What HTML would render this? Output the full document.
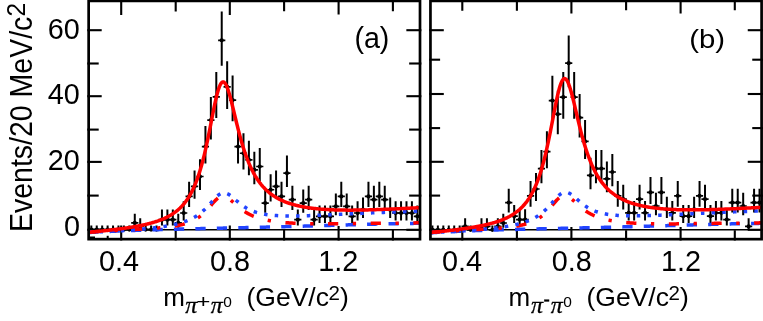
<!DOCTYPE html>
<html><head><meta charset="utf-8"><title>fig</title><style>html,body{margin:0;padding:0;background:#fff}svg text{white-space:pre}</style></head><body><svg width="763" height="321" viewBox="0 0 763 321" style="display:block;will-change:transform">
<rect x="0" y="0" width="763" height="321" fill="#fff"/>
<defs><clipPath id="ca"><rect x="88.6" y="1" width="331.4" height="238.2"/></clipPath><clipPath id="cb"><rect x="430.4" y="1" width="331.2" height="238.2"/></clipPath></defs>
<path d="M121.20 0V15.10 M121.20 240.5V225.40" stroke="#000" stroke-width="2.1" fill="none"/>
<path d="M175.70 0V11.60 M175.70 240.5V228.90" stroke="#000" stroke-width="2.1" fill="none"/>
<path d="M229.80 0V15.10 M229.80 240.5V225.40" stroke="#000" stroke-width="2.1" fill="none"/>
<path d="M284.10 0V11.30 M284.10 240.5V229.20" stroke="#000" stroke-width="2.1" fill="none"/>
<path d="M338.60 0V14.50 M338.60 240.5V226.00" stroke="#000" stroke-width="2.1" fill="none"/>
<path d="M392.90 0V11.30 M392.90 240.5V229.20" stroke="#000" stroke-width="2.1" fill="none"/>
<path d="M87.30 30.20H101.70" stroke="#000" stroke-width="2.1" fill="none"/>
<path d="M87.30 63.50H98.70" stroke="#000" stroke-width="2.1" fill="none"/>
<path d="M87.30 96.20H101.70" stroke="#000" stroke-width="2.1" fill="none"/>
<path d="M87.30 129.60H98.70" stroke="#000" stroke-width="2.1" fill="none"/>
<path d="M87.30 161.90H101.70" stroke="#000" stroke-width="2.1" fill="none"/>
<path d="M87.30 195.60H98.70" stroke="#000" stroke-width="2.1" fill="none"/>
<path d="M87.30 229.80H101.70" stroke="#000" stroke-width="2.1" fill="none"/>
<path d="M421.35 30.20H406.35" stroke="#000" stroke-width="2.1" fill="none"/>
<path d="M421.35 63.50H409.15" stroke="#000" stroke-width="2.1" fill="none"/>
<path d="M421.35 96.20H406.35" stroke="#000" stroke-width="2.1" fill="none"/>
<path d="M421.35 129.60H409.15" stroke="#000" stroke-width="2.1" fill="none"/>
<path d="M421.35 161.90H406.35" stroke="#000" stroke-width="2.1" fill="none"/>
<path d="M421.35 195.60H409.15" stroke="#000" stroke-width="2.1" fill="none"/>
<path d="M421.35 229.80H406.35" stroke="#000" stroke-width="2.1" fill="none"/>
<g clip-path="url(#ca)">
<line x1="88.65" x2="420.00" y1="229.75" y2="229.75" stroke="#000" stroke-width="1.7"/>
<path d="M91.31 225.38V230.00" stroke="#000" stroke-width="2.0" fill="none"/>
<path d="M87.71 229.60H94.91" stroke="#000" stroke-width="1.7" fill="none"/>
<circle cx="91.31" cy="229.60" r="2.1" fill="#000"/>
<path d="M96.75 225.38V230.00" stroke="#000" stroke-width="2.0" fill="none"/>
<path d="M93.15 229.60H100.35" stroke="#000" stroke-width="1.7" fill="none"/>
<circle cx="96.75" cy="229.60" r="2.1" fill="#000"/>
<path d="M102.18 225.38V230.00" stroke="#000" stroke-width="2.0" fill="none"/>
<path d="M98.58 229.60H105.78" stroke="#000" stroke-width="1.7" fill="none"/>
<circle cx="102.18" cy="229.60" r="2.1" fill="#000"/>
<path d="M107.61 225.38V230.00" stroke="#000" stroke-width="2.0" fill="none"/>
<path d="M104.02 229.60H111.21" stroke="#000" stroke-width="1.7" fill="none"/>
<circle cx="107.61" cy="229.60" r="2.1" fill="#000"/>
<path d="M113.05 225.38V230.00" stroke="#000" stroke-width="2.0" fill="none"/>
<path d="M109.45 229.60H116.65" stroke="#000" stroke-width="1.7" fill="none"/>
<circle cx="113.05" cy="229.60" r="2.1" fill="#000"/>
<path d="M118.48 225.38V230.00" stroke="#000" stroke-width="2.0" fill="none"/>
<path d="M114.88 229.60H122.08" stroke="#000" stroke-width="1.7" fill="none"/>
<circle cx="118.48" cy="229.60" r="2.1" fill="#000"/>
<path d="M123.92 225.38V230.00" stroke="#000" stroke-width="2.0" fill="none"/>
<path d="M120.32 229.60H127.52" stroke="#000" stroke-width="1.7" fill="none"/>
<circle cx="123.92" cy="229.60" r="2.1" fill="#000"/>
<path d="M129.35 225.38V230.00" stroke="#000" stroke-width="2.0" fill="none"/>
<path d="M125.75 229.60H132.95" stroke="#000" stroke-width="1.7" fill="none"/>
<circle cx="129.35" cy="229.60" r="2.1" fill="#000"/>
<path d="M134.78 213.80V227.65" stroke="#000" stroke-width="2.0" fill="none"/>
<path d="M131.19 222.96H138.38" stroke="#000" stroke-width="1.7" fill="none"/>
<circle cx="134.78" cy="222.96" r="2.1" fill="#000"/>
<path d="M140.22 218.25V229.43" stroke="#000" stroke-width="2.0" fill="none"/>
<path d="M136.62 226.28H143.82" stroke="#000" stroke-width="1.7" fill="none"/>
<circle cx="140.22" cy="226.28" r="2.1" fill="#000"/>
<path d="M145.65 225.38V230.00" stroke="#000" stroke-width="2.0" fill="none"/>
<path d="M142.05 229.60H149.25" stroke="#000" stroke-width="1.7" fill="none"/>
<circle cx="145.65" cy="229.60" r="2.1" fill="#000"/>
<path d="M151.09 225.38V230.00" stroke="#000" stroke-width="2.0" fill="none"/>
<path d="M147.49 229.60H154.69" stroke="#000" stroke-width="1.7" fill="none"/>
<circle cx="151.09" cy="229.60" r="2.1" fill="#000"/>
<path d="M156.52 225.38V230.00" stroke="#000" stroke-width="2.0" fill="none"/>
<path d="M152.92 229.60H160.12" stroke="#000" stroke-width="1.7" fill="none"/>
<circle cx="156.52" cy="229.60" r="2.1" fill="#000"/>
<path d="M161.96 209.55V225.46" stroke="#000" stroke-width="2.0" fill="none"/>
<path d="M158.36 219.64H165.56" stroke="#000" stroke-width="1.7" fill="none"/>
<circle cx="161.96" cy="219.64" r="2.1" fill="#000"/>
<path d="M167.39 209.55V225.46" stroke="#000" stroke-width="2.0" fill="none"/>
<path d="M163.79 219.64H170.99" stroke="#000" stroke-width="1.7" fill="none"/>
<circle cx="167.39" cy="219.64" r="2.1" fill="#000"/>
<path d="M172.82 209.55V225.46" stroke="#000" stroke-width="2.0" fill="none"/>
<path d="M169.22 219.64H176.42" stroke="#000" stroke-width="1.7" fill="none"/>
<circle cx="172.82" cy="219.64" r="2.1" fill="#000"/>
<path d="M178.26 213.80V227.65" stroke="#000" stroke-width="2.0" fill="none"/>
<path d="M174.66 222.96H181.86" stroke="#000" stroke-width="1.7" fill="none"/>
<circle cx="178.26" cy="222.96" r="2.1" fill="#000"/>
<path d="M183.69 201.37V220.57" stroke="#000" stroke-width="2.0" fill="none"/>
<path d="M180.09 213.00H187.29" stroke="#000" stroke-width="1.7" fill="none"/>
<circle cx="183.69" cy="213.00" r="2.1" fill="#000"/>
<path d="M189.12 181.83V207.12" stroke="#000" stroke-width="2.0" fill="none"/>
<path d="M185.52 196.40H192.72" stroke="#000" stroke-width="1.7" fill="none"/>
<circle cx="189.12" cy="196.40" r="2.1" fill="#000"/>
<path d="M194.56 170.44V198.65" stroke="#000" stroke-width="2.0" fill="none"/>
<path d="M190.96 186.44H198.16" stroke="#000" stroke-width="1.7" fill="none"/>
<circle cx="194.56" cy="186.44" r="2.1" fill="#000"/>
<path d="M199.99 159.20V190.02" stroke="#000" stroke-width="2.0" fill="none"/>
<path d="M196.39 176.48H203.59" stroke="#000" stroke-width="1.7" fill="none"/>
<circle cx="199.99" cy="176.48" r="2.1" fill="#000"/>
<path d="M205.43 126.06V163.49" stroke="#000" stroke-width="2.0" fill="none"/>
<path d="M201.83 146.60H209.03" stroke="#000" stroke-width="1.7" fill="none"/>
<circle cx="205.43" cy="146.60" r="2.1" fill="#000"/>
<path d="M210.86 97.06V139.41" stroke="#000" stroke-width="2.0" fill="none"/>
<path d="M207.26 120.04H214.46" stroke="#000" stroke-width="1.7" fill="none"/>
<circle cx="210.86" cy="120.04" r="2.1" fill="#000"/>
<path d="M216.29 71.91V118.11" stroke="#000" stroke-width="2.0" fill="none"/>
<path d="M212.69 96.80H219.89" stroke="#000" stroke-width="1.7" fill="none"/>
<circle cx="216.29" cy="96.80" r="2.1" fill="#000"/>
<path d="M221.73 11.43V65.75" stroke="#000" stroke-width="2.0" fill="none"/>
<path d="M218.13 40.36H225.33" stroke="#000" stroke-width="1.7" fill="none"/>
<circle cx="221.73" cy="40.36" r="2.1" fill="#000"/>
<path d="M227.16 61.18V108.93" stroke="#000" stroke-width="2.0" fill="none"/>
<path d="M223.56 86.84H230.76" stroke="#000" stroke-width="1.7" fill="none"/>
<circle cx="227.16" cy="86.84" r="2.1" fill="#000"/>
<path d="M232.60 75.49V121.16" stroke="#000" stroke-width="2.0" fill="none"/>
<path d="M229.00 100.12H236.20" stroke="#000" stroke-width="1.7" fill="none"/>
<circle cx="232.60" cy="100.12" r="2.1" fill="#000"/>
<path d="M238.03 126.06V163.49" stroke="#000" stroke-width="2.0" fill="none"/>
<path d="M234.43 146.60H241.63" stroke="#000" stroke-width="1.7" fill="none"/>
<circle cx="238.03" cy="146.60" r="2.1" fill="#000"/>
<path d="M243.47 133.37V169.45" stroke="#000" stroke-width="2.0" fill="none"/>
<path d="M239.87 153.24H247.07" stroke="#000" stroke-width="1.7" fill="none"/>
<circle cx="243.47" cy="153.24" r="2.1" fill="#000"/>
<path d="M248.90 140.70V175.37" stroke="#000" stroke-width="2.0" fill="none"/>
<path d="M245.30 159.88H252.50" stroke="#000" stroke-width="1.7" fill="none"/>
<circle cx="248.90" cy="159.88" r="2.1" fill="#000"/>
<path d="M254.33 151.77V184.19" stroke="#000" stroke-width="2.0" fill="none"/>
<path d="M250.73 169.84H257.93" stroke="#000" stroke-width="1.7" fill="none"/>
<circle cx="254.33" cy="169.84" r="2.1" fill="#000"/>
<path d="M259.77 148.08V181.26" stroke="#000" stroke-width="2.0" fill="none"/>
<path d="M256.17 166.52H263.37" stroke="#000" stroke-width="1.7" fill="none"/>
<circle cx="259.77" cy="166.52" r="2.1" fill="#000"/>
<path d="M265.20 189.54V212.63" stroke="#000" stroke-width="2.0" fill="none"/>
<path d="M261.60 203.04H268.80" stroke="#000" stroke-width="1.7" fill="none"/>
<circle cx="265.20" cy="203.04" r="2.1" fill="#000"/>
<path d="M270.63 174.22V201.50" stroke="#000" stroke-width="2.0" fill="none"/>
<path d="M267.03 189.76H274.24" stroke="#000" stroke-width="1.7" fill="none"/>
<circle cx="270.63" cy="189.76" r="2.1" fill="#000"/>
<path d="M276.07 170.44V198.65" stroke="#000" stroke-width="2.0" fill="none"/>
<path d="M272.47 186.44H279.67" stroke="#000" stroke-width="1.7" fill="none"/>
<circle cx="276.07" cy="186.44" r="2.1" fill="#000"/>
<path d="M281.50 181.83V207.12" stroke="#000" stroke-width="2.0" fill="none"/>
<path d="M277.90 196.40H285.10" stroke="#000" stroke-width="1.7" fill="none"/>
<circle cx="281.50" cy="196.40" r="2.1" fill="#000"/>
<path d="M286.94 155.48V187.11" stroke="#000" stroke-width="2.0" fill="none"/>
<path d="M283.34 173.16H290.54" stroke="#000" stroke-width="1.7" fill="none"/>
<circle cx="286.94" cy="173.16" r="2.1" fill="#000"/>
<path d="M292.37 185.67V209.89" stroke="#000" stroke-width="2.0" fill="none"/>
<path d="M288.77 199.72H295.97" stroke="#000" stroke-width="1.7" fill="none"/>
<circle cx="292.37" cy="199.72" r="2.1" fill="#000"/>
<path d="M297.81 209.55V225.46" stroke="#000" stroke-width="2.0" fill="none"/>
<path d="M294.20 219.64H301.41" stroke="#000" stroke-width="1.7" fill="none"/>
<circle cx="297.81" cy="219.64" r="2.1" fill="#000"/>
<path d="M303.24 189.54V212.63" stroke="#000" stroke-width="2.0" fill="none"/>
<path d="M299.64 203.04H306.84" stroke="#000" stroke-width="1.7" fill="none"/>
<circle cx="303.24" cy="203.04" r="2.1" fill="#000"/>
<path d="M308.67 185.67V209.89" stroke="#000" stroke-width="2.0" fill="none"/>
<path d="M305.07 199.72H312.27" stroke="#000" stroke-width="1.7" fill="none"/>
<circle cx="308.67" cy="199.72" r="2.1" fill="#000"/>
<path d="M314.11 209.55V225.46" stroke="#000" stroke-width="2.0" fill="none"/>
<path d="M310.51 219.64H317.71" stroke="#000" stroke-width="1.7" fill="none"/>
<circle cx="314.11" cy="219.64" r="2.1" fill="#000"/>
<path d="M319.54 205.42V223.08" stroke="#000" stroke-width="2.0" fill="none"/>
<path d="M315.94 216.32H323.14" stroke="#000" stroke-width="1.7" fill="none"/>
<circle cx="319.54" cy="216.32" r="2.1" fill="#000"/>
<path d="M324.97 205.42V223.08" stroke="#000" stroke-width="2.0" fill="none"/>
<path d="M321.37 216.32H328.57" stroke="#000" stroke-width="1.7" fill="none"/>
<circle cx="324.97" cy="216.32" r="2.1" fill="#000"/>
<path d="M330.41 205.42V223.08" stroke="#000" stroke-width="2.0" fill="none"/>
<path d="M326.81 216.32H334.01" stroke="#000" stroke-width="1.7" fill="none"/>
<circle cx="330.41" cy="216.32" r="2.1" fill="#000"/>
<path d="M335.84 193.44V215.33" stroke="#000" stroke-width="2.0" fill="none"/>
<path d="M332.24 206.36H339.44" stroke="#000" stroke-width="1.7" fill="none"/>
<circle cx="335.84" cy="206.36" r="2.1" fill="#000"/>
<path d="M341.28 181.83V207.12" stroke="#000" stroke-width="2.0" fill="none"/>
<path d="M337.68 196.40H344.88" stroke="#000" stroke-width="1.7" fill="none"/>
<circle cx="341.28" cy="196.40" r="2.1" fill="#000"/>
<path d="M346.71 193.44V215.33" stroke="#000" stroke-width="2.0" fill="none"/>
<path d="M343.11 206.36H350.31" stroke="#000" stroke-width="1.7" fill="none"/>
<circle cx="346.71" cy="206.36" r="2.1" fill="#000"/>
<path d="M352.14 205.42V223.08" stroke="#000" stroke-width="2.0" fill="none"/>
<path d="M348.54 216.32H355.75" stroke="#000" stroke-width="1.7" fill="none"/>
<circle cx="352.14" cy="216.32" r="2.1" fill="#000"/>
<path d="M357.58 201.37V220.57" stroke="#000" stroke-width="2.0" fill="none"/>
<path d="M353.98 213.00H361.18" stroke="#000" stroke-width="1.7" fill="none"/>
<circle cx="357.58" cy="213.00" r="2.1" fill="#000"/>
<path d="M363.01 197.38V217.98" stroke="#000" stroke-width="2.0" fill="none"/>
<path d="M359.41 209.68H366.61" stroke="#000" stroke-width="1.7" fill="none"/>
<circle cx="363.01" cy="209.68" r="2.1" fill="#000"/>
<path d="M368.45 181.83V207.12" stroke="#000" stroke-width="2.0" fill="none"/>
<path d="M364.85 196.40H372.05" stroke="#000" stroke-width="1.7" fill="none"/>
<circle cx="368.45" cy="196.40" r="2.1" fill="#000"/>
<path d="M373.88 185.67V209.89" stroke="#000" stroke-width="2.0" fill="none"/>
<path d="M370.28 199.72H377.48" stroke="#000" stroke-width="1.7" fill="none"/>
<circle cx="373.88" cy="199.72" r="2.1" fill="#000"/>
<path d="M379.31 181.83V207.12" stroke="#000" stroke-width="2.0" fill="none"/>
<path d="M375.71 196.40H382.92" stroke="#000" stroke-width="1.7" fill="none"/>
<circle cx="379.31" cy="196.40" r="2.1" fill="#000"/>
<path d="M384.75 185.67V209.89" stroke="#000" stroke-width="2.0" fill="none"/>
<path d="M381.15 199.72H388.35" stroke="#000" stroke-width="1.7" fill="none"/>
<circle cx="384.75" cy="199.72" r="2.1" fill="#000"/>
<path d="M390.18 197.38V217.98" stroke="#000" stroke-width="2.0" fill="none"/>
<path d="M386.58 209.68H393.78" stroke="#000" stroke-width="1.7" fill="none"/>
<circle cx="390.18" cy="209.68" r="2.1" fill="#000"/>
<path d="M395.62 201.37V220.57" stroke="#000" stroke-width="2.0" fill="none"/>
<path d="M392.02 213.00H399.22" stroke="#000" stroke-width="1.7" fill="none"/>
<circle cx="395.62" cy="213.00" r="2.1" fill="#000"/>
<path d="M401.05 201.37V220.57" stroke="#000" stroke-width="2.0" fill="none"/>
<path d="M397.45 213.00H404.65" stroke="#000" stroke-width="1.7" fill="none"/>
<circle cx="401.05" cy="213.00" r="2.1" fill="#000"/>
<path d="M406.48 201.37V220.57" stroke="#000" stroke-width="2.0" fill="none"/>
<path d="M402.88 213.00H410.08" stroke="#000" stroke-width="1.7" fill="none"/>
<circle cx="406.48" cy="213.00" r="2.1" fill="#000"/>
<path d="M411.92 201.37V220.57" stroke="#000" stroke-width="2.0" fill="none"/>
<path d="M408.32 213.00H415.52" stroke="#000" stroke-width="1.7" fill="none"/>
<circle cx="411.92" cy="213.00" r="2.1" fill="#000"/>
<path d="M417.35 205.42V223.08" stroke="#000" stroke-width="2.0" fill="none"/>
<path d="M413.75 216.32H420.95" stroke="#000" stroke-width="1.7" fill="none"/>
<circle cx="417.35" cy="216.32" r="2.1" fill="#000"/>
<path d="M88.46 232.56 L89.12 232.52 L89.79 232.48 L90.45 232.44 L91.12 232.40 L91.78 232.36 L92.45 232.33 L93.11 232.29 L93.77 232.25 L94.44 232.21 L95.10 232.17 L95.77 232.13 L96.43 232.10 L97.10 232.06 L97.76 232.02 L98.42 231.99 L99.09 231.95 L99.75 231.92 L100.42 231.88 L101.08 231.85 L101.75 231.81 L102.41 231.78 L103.07 231.74 L103.74 231.71 L104.40 231.67 L105.07 231.64 L105.73 231.61 L106.40 231.58 L107.06 231.54 L107.72 231.51 L108.39 231.48 L109.05 231.45 L109.72 231.41 L110.38 231.38 L111.05 231.35 L111.71 231.32 L112.37 231.29 L113.04 231.26 L113.70 231.23 L114.37 231.20 L115.03 231.17 L115.70 231.14 L116.36 231.11 L117.02 231.08 L117.69 231.05 L118.35 231.03 L119.02 231.00 L119.68 230.97 L120.35 230.94 L121.01 230.91 L121.67 230.89 L122.34 230.86 L123.00 230.83 L123.67 230.81 L124.33 230.78 L125.00 230.75 L125.66 230.73 L126.32 230.70 L126.99 230.68 L127.65 230.65 L128.32 230.62 L128.98 230.60 L129.65 230.57 L130.31 230.55 L130.97 230.53 L131.64 230.50 L132.30 230.48 L132.97 230.45 L133.63 230.43 L134.30 230.41 L134.96 230.38 L135.62 230.36 L136.29 230.34 L136.95 230.31 L137.62 230.29 L138.28 230.27 L138.95 230.24 L139.61 230.22 L140.27 230.20 L140.94 230.18 L141.60 230.16 L142.27 230.13 L142.93 230.11 L143.60 230.09 L144.26 230.07 L144.92 230.05 L145.59 230.03 L146.25 230.01 L146.92 229.99 L147.58 229.97 L148.25 229.94 L148.91 229.92 L149.57 229.90 L150.24 229.88 L150.90 229.86 L151.57 229.84 L152.23 229.82 L152.89 229.81 L153.56 229.79 L154.22 229.77 L154.89 229.75 L155.55 229.73 L156.22 229.71 L156.88 229.69 L157.54 229.67 L158.21 229.65 L158.87 229.63 L159.54 229.62 L160.20 229.60 L160.87 229.58 L161.53 229.56 L162.19 229.54 L162.86 229.53 L163.52 229.51 L164.19 229.49 L164.85 229.47 L165.52 229.45 L166.18 229.44 L166.84 229.42 L167.51 229.40 L168.17 229.39 L168.84 229.37 L169.50 229.35 L170.17 229.33 L170.83 229.32 L171.49 229.30 L172.16 229.28 L172.82 229.27 L173.49 229.25 L174.15 229.23 L174.82 229.22 L175.48 229.20 L176.14 229.18 L176.81 229.17 L177.47 229.15 L178.14 229.14 L178.80 229.12 L179.47 229.10 L180.13 229.09 L180.79 229.07 L181.46 229.06 L182.12 229.04 L182.79 229.03 L183.45 229.01 L184.12 228.99 L184.78 228.98 L185.44 228.96 L186.11 228.95 L186.77 228.93 L187.44 228.92 L188.10 228.90 L188.77 228.89 L189.43 228.87 L190.09 228.86 L190.76 228.84 L191.42 228.82 L192.09 228.81 L192.75 228.79 L193.42 228.78 L194.08 228.76 L194.74 228.75 L195.41 228.73 L196.07 228.72 L196.74 228.70 L197.40 228.69 L198.07 228.68 L198.73 228.66 L199.39 228.65 L200.06 228.63 L200.72 228.62 L201.39 228.60 L202.05 228.59 L202.72 228.57 L203.38 228.56 L204.04 228.54 L204.71 228.53 L205.37 228.51 L206.04 228.50 L206.70 228.48 L207.37 228.47 L208.03 228.45 L208.69 228.44 L209.36 228.43 L210.02 228.41 L210.69 228.40 L211.35 228.38 L212.02 228.37 L212.68 228.35 L213.34 228.34 L214.01 228.32 L214.67 228.31 L215.34 228.29 L216.00 228.28 L216.67 228.27 L217.33 228.25 L217.99 228.24 L218.66 228.22 L219.32 228.21 L219.99 228.19 L220.65 228.18 L221.32 228.16 L221.98 228.15 L222.64 228.13 L223.31 228.12 L223.97 228.10 L224.64 228.09 L225.30 228.08 L225.97 228.06 L226.63 228.05 L227.29 228.03 L227.96 228.02 L228.62 228.00 L229.29 227.99 L229.95 227.97 L230.62 227.96 L231.28 227.94 L231.94 227.93 L232.61 227.91 L233.27 227.90 L233.94 227.88 L234.60 227.87 L235.27 227.85 L235.93 227.84 L236.59 227.82 L237.26 227.81 L237.92 227.79 L238.59 227.78 L239.25 227.76 L239.92 227.75 L240.58 227.73 L241.24 227.72 L241.91 227.70 L242.57 227.69 L243.24 227.67 L243.90 227.66 L244.57 227.64 L245.23 227.63 L245.89 227.61 L246.56 227.60 L247.22 227.58 L247.89 227.56 L248.55 227.55 L249.22 227.53 L249.88 227.52 L250.54 227.50 L251.21 227.49 L251.87 227.47 L252.54 227.46 L253.20 227.44 L253.87 227.42 L254.53 227.41 L255.19 227.39 L255.86 227.38 L256.52 227.36 L257.19 227.34 L257.85 227.33 L258.51 227.31 L259.18 227.30 L259.84 227.28 L260.51 227.26 L261.17 227.25 L261.84 227.23 L262.50 227.22 L263.16 227.20 L263.83 227.18 L264.49 227.17 L265.16 227.15 L265.82 227.13 L266.49 227.12 L267.15 227.10 L267.81 227.08 L268.48 227.07 L269.14 227.05 L269.81 227.03 L270.47 227.02 L271.14 227.00 L271.80 226.98 L272.46 226.97 L273.13 226.95 L273.79 226.93 L274.46 226.92 L275.12 226.90 L275.79 226.88 L276.45 226.87 L277.11 226.85 L277.78 226.83 L278.44 226.81 L279.11 226.80 L279.77 226.78 L280.44 226.76 L281.10 226.75 L281.76 226.73 L282.43 226.71 L283.09 226.69 L283.76 226.68 L284.42 226.66 L285.09 226.64 L285.75 226.62 L286.41 226.61 L287.08 226.59 L287.74 226.57 L288.41 226.55 L289.07 226.54 L289.74 226.52 L290.40 226.50 L291.06 226.48 L291.73 226.46 L292.39 226.45 L293.06 226.43 L293.72 226.41 L294.39 226.39 L295.05 226.37 L295.71 226.36 L296.38 226.34 L297.04 226.32 L297.71 226.30 L298.37 226.28 L299.04 226.26 L299.70 226.25 L300.36 226.23 L301.03 226.21 L301.69 226.19 L302.36 226.17 L303.02 226.15 L303.69 226.14 L304.35 226.12 L305.01 226.10 L305.68 226.08 L306.34 226.06 L307.01 226.04 L307.67 226.02 L308.34 226.01 L309.00 225.99 L309.66 225.97 L310.33 225.95 L310.99 225.93 L311.66 225.91 L312.32 225.89 L312.99 225.87 L313.65 225.86 L314.31 225.84 L314.98 225.82 L315.64 225.80 L316.31 225.78 L316.97 225.76 L317.64 225.74 L318.30 225.72 L318.96 225.70 L319.63 225.69 L320.29 225.67 L320.96 225.65 L321.62 225.63 L322.29 225.61 L322.95 225.59 L323.61 225.57 L324.28 225.55 L324.94 225.53 L325.61 225.51 L326.27 225.50 L326.94 225.48 L327.60 225.46 L328.26 225.44 L328.93 225.42 L329.59 225.40 L330.26 225.38 L330.92 225.36 L331.59 225.34 L332.25 225.32 L332.91 225.30 L333.58 225.29 L334.24 225.27 L334.91 225.25 L335.57 225.23 L336.24 225.21 L336.90 225.19 L337.56 225.17 L338.23 225.15 L338.89 225.13 L339.56 225.11 L340.22 225.09 L340.89 225.08 L341.55 225.06 L342.21 225.04 L342.88 225.02 L343.54 225.00 L344.21 224.98 L344.87 224.96 L345.54 224.94 L346.20 224.92 L346.86 224.90 L347.53 224.89 L348.19 224.87 L348.86 224.85 L349.52 224.83 L350.19 224.81 L350.85 224.79 L351.51 224.77 L352.18 224.75 L352.84 224.74 L353.51 224.72 L354.17 224.70 L354.84 224.68 L355.50 224.66 L356.16 224.64 L356.83 224.63 L357.49 224.61 L358.16 224.59 L358.82 224.57 L359.48 224.55 L360.15 224.53 L360.81 224.52 L361.48 224.50 L362.14 224.48 L362.81 224.46 L363.47 224.44 L364.13 224.43 L364.80 224.41 L365.46 224.39 L366.13 224.37 L366.79 224.36 L367.46 224.34 L368.12 224.32 L368.78 224.30 L369.45 224.29 L370.11 224.27 L370.78 224.25 L371.44 224.23 L372.11 224.22 L372.77 224.20 L373.43 224.18 L374.10 224.17 L374.76 224.15 L375.43 224.13 L376.09 224.12 L376.76 224.10 L377.42 224.08 L378.08 224.07 L378.75 224.05 L379.41 224.04 L380.08 224.02 L380.74 224.00 L381.41 223.99 L382.07 223.97 L382.73 223.96 L383.40 223.94 L384.06 223.93 L384.73 223.91 L385.39 223.89 L386.06 223.88 L386.72 223.86 L387.38 223.85 L388.05 223.83 L388.71 223.82 L389.38 223.81 L390.04 223.79 L390.71 223.78 L391.37 223.76 L392.03 223.75 L392.70 223.73 L393.36 223.72 L394.03 223.71 L394.69 223.69 L395.36 223.68 L396.02 223.67 L396.68 223.65 L397.35 223.64 L398.01 223.63 L398.68 223.62 L399.34 223.60 L400.01 223.59 L400.67 223.58 L401.33 223.57 L402.00 223.55 L402.66 223.54 L403.33 223.53 L403.99 223.52 L404.66 223.51 L405.32 223.50 L405.98 223.49 L406.65 223.47 L407.31 223.46 L407.98 223.45 L408.64 223.44 L409.31 223.43 L409.97 223.42 L410.63 223.41 L411.30 223.40 L411.96 223.39 L412.63 223.38 L413.29 223.38 L413.96 223.37 L414.62 223.36 L415.28 223.35 L415.95 223.34 L416.61 223.33 L417.28 223.33 L417.94 223.32 L418.61 223.31 L419.27 223.30 L419.93 223.30" fill="none" stroke="#2244ff" stroke-width="3.5" stroke-dasharray="10.3 11.17" stroke-dashoffset="0.37"/>
<path d="M88.46 232.07 L89.12 232.03 L89.79 231.98 L90.45 231.94 L91.12 231.90 L91.78 231.85 L92.45 231.81 L93.11 231.77 L93.77 231.72 L94.44 231.68 L95.10 231.64 L95.77 231.60 L96.43 231.56 L97.10 231.51 L97.76 231.47 L98.42 231.43 L99.09 231.39 L99.75 231.35 L100.42 231.31 L101.08 231.27 L101.75 231.23 L102.41 231.19 L103.07 231.15 L103.74 231.11 L104.40 231.07 L105.07 231.03 L105.73 231.00 L106.40 230.96 L107.06 230.92 L107.72 230.88 L108.39 230.84 L109.05 230.81 L109.72 230.77 L110.38 230.73 L111.05 230.69 L111.71 230.66 L112.37 230.62 L113.04 230.58 L113.70 230.55 L114.37 230.51 L115.03 230.47 L115.70 230.44 L116.36 230.40 L117.02 230.37 L117.69 230.33 L118.35 230.30 L119.02 230.26 L119.68 230.22 L120.35 230.19 L121.01 230.15 L121.67 230.12 L122.34 230.08 L123.00 230.05 L123.67 230.01 L124.33 229.98 L125.00 229.94 L125.66 229.91 L126.32 229.87 L126.99 229.84 L127.65 229.80 L128.32 229.77 L128.98 229.73 L129.65 229.70 L130.31 229.66 L130.97 229.63 L131.64 229.59 L132.30 229.56 L132.97 229.52 L133.63 229.49 L134.30 229.45 L134.96 229.42 L135.62 229.38 L136.29 229.34 L136.95 229.31 L137.62 229.27 L138.28 229.23 L138.95 229.20 L139.61 229.16 L140.27 229.12 L140.94 229.09 L141.60 229.05 L142.27 229.01 L142.93 228.97 L143.60 228.93 L144.26 228.89 L144.92 228.85 L145.59 228.81 L146.25 228.77 L146.92 228.73 L147.58 228.69 L148.25 228.65 L148.91 228.61 L149.57 228.57 L150.24 228.52 L150.90 228.48 L151.57 228.43 L152.23 228.39 L152.89 228.34 L153.56 228.29 L154.22 228.25 L154.89 228.20 L155.55 228.15 L156.22 228.10 L156.88 228.05 L157.54 227.99 L158.21 227.94 L158.87 227.88 L159.54 227.83 L160.20 227.77 L160.87 227.71 L161.53 227.65 L162.19 227.59 L162.86 227.53 L163.52 227.47 L164.19 227.40 L164.85 227.33 L165.52 227.26 L166.18 227.19 L166.84 227.12 L167.51 227.04 L168.17 226.96 L168.84 226.88 L169.50 226.80 L170.17 226.72 L170.83 226.63 L171.49 226.54 L172.16 226.45 L172.82 226.35 L173.49 226.25 L174.15 226.15 L174.82 226.04 L175.48 225.93 L176.14 225.82 L176.81 225.70 L177.47 225.58 L178.14 225.45 L178.80 225.32 L179.47 225.18 L180.13 225.04 L180.79 224.89 L181.46 224.74 L182.12 224.58 L182.79 224.42 L183.45 224.24 L184.12 224.06 L184.78 223.88 L185.44 223.68 L186.11 223.48 L186.77 223.27 L187.44 223.05 L188.10 222.82 L188.77 222.58 L189.43 222.33 L190.09 222.07 L190.76 221.80 L191.42 221.52 L192.09 221.22 L192.75 220.91 L193.42 220.59 L194.08 220.25 L194.74 219.90 L195.41 219.53 L196.07 219.14 L196.74 218.74 L197.40 218.32 L198.07 217.88 L198.73 217.43 L199.39 216.95 L200.06 216.45 L200.72 215.94 L201.39 215.40 L202.05 214.84 L202.72 214.26 L203.38 213.66 L204.04 213.03 L204.71 212.39 L205.37 211.72 L206.04 211.03 L206.70 210.33 L207.37 209.60 L208.03 208.87 L208.69 208.11 L209.36 207.35 L210.02 206.57 L210.69 205.79 L211.35 205.01 L212.02 204.23 L212.68 203.46 L213.34 202.70 L214.01 201.95 L214.67 201.23 L215.34 200.54 L216.00 199.88 L216.67 199.26 L217.33 198.69 L217.99 198.17 L218.66 197.70 L219.32 197.30 L219.99 196.96 L220.65 196.68 L221.32 196.48 L221.98 196.34 L222.64 196.28 L223.31 196.28 L223.97 196.35 L224.64 196.49 L225.30 196.69 L225.97 196.95 L226.63 197.26 L227.29 197.63 L227.96 198.04 L228.62 198.49 L229.29 198.97 L229.95 199.48 L230.62 200.02 L231.28 200.58 L231.94 201.15 L232.61 201.74 L233.27 202.33 L233.94 202.93 L234.60 203.53 L235.27 204.13 L235.93 204.72 L236.59 205.31 L237.26 205.89 L237.92 206.47 L238.59 207.03 L239.25 207.58 L239.92 208.11 L240.58 208.64 L241.24 209.15 L241.91 209.65 L242.57 210.13 L243.24 210.60 L243.90 211.06 L244.57 211.50 L245.23 211.92 L245.89 212.34 L246.56 212.74 L247.22 213.12 L247.89 213.50 L248.55 213.86 L249.22 214.21 L249.88 214.54 L250.54 214.87 L251.21 215.18 L251.87 215.48 L252.54 215.78 L253.20 216.06 L253.87 216.33 L254.53 216.59 L255.19 216.85 L255.86 217.09 L256.52 217.33 L257.19 217.56 L257.85 217.78 L258.51 217.99 L259.18 218.20 L259.84 218.39 L260.51 218.59 L261.17 218.77 L261.84 218.95 L262.50 219.12 L263.16 219.29 L263.83 219.45 L264.49 219.61 L265.16 219.76 L265.82 219.90 L266.49 220.05 L267.15 220.18 L267.81 220.31 L268.48 220.44 L269.14 220.57 L269.81 220.69 L270.47 220.80 L271.14 220.91 L271.80 221.02 L272.46 221.13 L273.13 221.23 L273.79 221.33 L274.46 221.42 L275.12 221.52 L275.79 221.61 L276.45 221.69 L277.11 221.78 L277.78 221.86 L278.44 221.94 L279.11 222.01 L279.77 222.09 L280.44 222.16 L281.10 222.23 L281.76 222.29 L282.43 222.36 L283.09 222.42 L283.76 222.48 L284.42 222.54 L285.09 222.60 L285.75 222.65 L286.41 222.71 L287.08 222.76 L287.74 222.81 L288.41 222.86 L289.07 222.91 L289.74 222.95 L290.40 223.00 L291.06 223.04 L291.73 223.08 L292.39 223.12 L293.06 223.16 L293.72 223.19 L294.39 223.23 L295.05 223.26 L295.71 223.30 L296.38 223.33 L297.04 223.36 L297.71 223.39 L298.37 223.42 L299.04 223.45 L299.70 223.47 L300.36 223.50 L301.03 223.52 L301.69 223.55 L302.36 223.57 L303.02 223.59 L303.69 223.61 L304.35 223.63 L305.01 223.65 L305.68 223.67 L306.34 223.68 L307.01 223.70 L307.67 223.72 L308.34 223.73 L309.00 223.74 L309.66 223.76 L310.33 223.77 L310.99 223.78 L311.66 223.79 L312.32 223.80 L312.99 223.81 L313.65 223.82 L314.31 223.83 L314.98 223.84 L315.64 223.84 L316.31 223.85 L316.97 223.85 L317.64 223.86 L318.30 223.86 L318.96 223.87 L319.63 223.87 L320.29 223.87 L320.96 223.87 L321.62 223.87 L322.29 223.88 L322.95 223.88 L323.61 223.88 L324.28 223.88 L324.94 223.87 L325.61 223.87 L326.27 223.87 L326.94 223.87 L327.60 223.87 L328.26 223.86 L328.93 223.86 L329.59 223.85 L330.26 223.85 L330.92 223.85 L331.59 223.84 L332.25 223.83 L332.91 223.83 L333.58 223.82 L334.24 223.82 L334.91 223.81 L335.57 223.80 L336.24 223.79 L336.90 223.79 L337.56 223.78 L338.23 223.77 L338.89 223.76 L339.56 223.75 L340.22 223.74 L340.89 223.74 L341.55 223.73 L342.21 223.72 L342.88 223.71 L343.54 223.70 L344.21 223.69 L344.87 223.68 L345.54 223.67 L346.20 223.66 L346.86 223.65 L347.53 223.64 L348.19 223.63 L348.86 223.62 L349.52 223.61 L350.19 223.60 L350.85 223.59 L351.51 223.58 L352.18 223.57 L352.84 223.55 L353.51 223.54 L354.17 223.53 L354.84 223.52 L355.50 223.51 L356.16 223.50 L356.83 223.50 L357.49 223.49 L358.16 223.48 L358.82 223.47 L359.48 223.46 L360.15 223.45 L360.81 223.44 L361.48 223.43 L362.14 223.42 L362.81 223.42 L363.47 223.41 L364.13 223.40 L364.80 223.39 L365.46 223.38 L366.13 223.38 L366.79 223.37 L367.46 223.36 L368.12 223.36 L368.78 223.35 L369.45 223.35 L370.11 223.34 L370.78 223.33 L371.44 223.33 L372.11 223.32 L372.77 223.32 L373.43 223.32 L374.10 223.31 L374.76 223.31 L375.43 223.30 L376.09 223.30 L376.76 223.30 L377.42 223.29 L378.08 223.29 L378.75 223.29 L379.41 223.28 L380.08 223.28 L380.74 223.28 L381.41 223.28 L382.07 223.27 L382.73 223.27 L383.40 223.27 L384.06 223.27 L384.73 223.27 L385.39 223.26 L386.06 223.26 L386.72 223.26 L387.38 223.26 L388.05 223.26 L388.71 223.25 L389.38 223.25 L390.04 223.25 L390.71 223.25 L391.37 223.24 L392.03 223.24 L392.70 223.24 L393.36 223.23 L394.03 223.23 L394.69 223.23 L395.36 223.22 L396.02 223.22 L396.68 223.21 L397.35 223.21 L398.01 223.20 L398.68 223.20 L399.34 223.19 L400.01 223.19 L400.67 223.18 L401.33 223.17 L402.00 223.16 L402.66 223.15 L403.33 223.15 L403.99 223.14 L404.66 223.13 L405.32 223.12 L405.98 223.11 L406.65 223.09 L407.31 223.08 L407.98 223.07 L408.64 223.06 L409.31 223.04 L409.97 223.03 L410.63 223.01 L411.30 223.00 L411.96 222.98 L412.63 222.96 L413.29 222.95 L413.96 222.93 L414.62 222.91 L415.28 222.89 L415.95 222.87 L416.61 222.85 L417.28 222.83 L417.94 222.80 L418.61 222.78 L419.27 222.76 L419.93 222.73" fill="none" stroke="#f00" stroke-width="3.5" stroke-dasharray="10.2 14.55 3.3 14.6" stroke-dashoffset="-1.30"/>
<path d="M88.46 232.24 L89.12 232.22 L89.79 232.20 L90.45 232.18 L91.12 232.16 L91.78 232.14 L92.45 232.12 L93.11 232.09 L93.77 232.07 L94.44 232.05 L95.10 232.03 L95.77 232.00 L96.43 231.98 L97.10 231.95 L97.76 231.93 L98.42 231.90 L99.09 231.88 L99.75 231.85 L100.42 231.82 L101.08 231.80 L101.75 231.77 L102.41 231.74 L103.07 231.71 L103.74 231.68 L104.40 231.65 L105.07 231.62 L105.73 231.59 L106.40 231.56 L107.06 231.53 L107.72 231.50 L108.39 231.47 L109.05 231.44 L109.72 231.40 L110.38 231.37 L111.05 231.33 L111.71 231.30 L112.37 231.27 L113.04 231.23 L113.70 231.19 L114.37 231.16 L115.03 231.12 L115.70 231.08 L116.36 231.05 L117.02 231.01 L117.69 230.97 L118.35 230.93 L119.02 230.89 L119.68 230.85 L120.35 230.81 L121.01 230.77 L121.67 230.73 L122.34 230.69 L123.00 230.64 L123.67 230.60 L124.33 230.56 L125.00 230.51 L125.66 230.47 L126.32 230.42 L126.99 230.38 L127.65 230.33 L128.32 230.28 L128.98 230.24 L129.65 230.19 L130.31 230.14 L130.97 230.09 L131.64 230.04 L132.30 229.99 L132.97 229.94 L133.63 229.88 L134.30 229.83 L134.96 229.78 L135.62 229.72 L136.29 229.67 L136.95 229.61 L137.62 229.56 L138.28 229.50 L138.95 229.44 L139.61 229.38 L140.27 229.32 L140.94 229.26 L141.60 229.20 L142.27 229.14 L142.93 229.08 L143.60 229.02 L144.26 228.95 L144.92 228.89 L145.59 228.82 L146.25 228.75 L146.92 228.68 L147.58 228.62 L148.25 228.55 L148.91 228.47 L149.57 228.40 L150.24 228.33 L150.90 228.25 L151.57 228.18 L152.23 228.10 L152.89 228.02 L153.56 227.94 L154.22 227.86 L154.89 227.78 L155.55 227.70 L156.22 227.61 L156.88 227.53 L157.54 227.44 L158.21 227.35 L158.87 227.26 L159.54 227.17 L160.20 227.07 L160.87 226.98 L161.53 226.88 L162.19 226.78 L162.86 226.68 L163.52 226.57 L164.19 226.47 L164.85 226.36 L165.52 226.25 L166.18 226.14 L166.84 226.02 L167.51 225.91 L168.17 225.79 L168.84 225.67 L169.50 225.54 L170.17 225.41 L170.83 225.28 L171.49 225.15 L172.16 225.01 L172.82 224.87 L173.49 224.73 L174.15 224.58 L174.82 224.43 L175.48 224.27 L176.14 224.11 L176.81 223.95 L177.47 223.78 L178.14 223.61 L178.80 223.43 L179.47 223.25 L180.13 223.06 L180.79 222.87 L181.46 222.67 L182.12 222.47 L182.79 222.26 L183.45 222.04 L184.12 221.82 L184.78 221.59 L185.44 221.35 L186.11 221.10 L186.77 220.85 L187.44 220.59 L188.10 220.32 L188.77 220.04 L189.43 219.75 L190.09 219.45 L190.76 219.14 L191.42 218.82 L192.09 218.49 L192.75 218.14 L193.42 217.79 L194.08 217.42 L194.74 217.04 L195.41 216.64 L196.07 216.23 L196.74 215.81 L197.40 215.37 L198.07 214.92 L198.73 214.45 L199.39 213.96 L200.06 213.46 L200.72 212.93 L201.39 212.39 L202.05 211.84 L202.72 211.26 L203.38 210.67 L204.04 210.06 L204.71 209.43 L205.37 208.78 L206.04 208.11 L206.70 207.43 L207.37 206.74 L208.03 206.03 L208.69 205.30 L209.36 204.57 L210.02 203.82 L210.69 203.07 L211.35 202.32 L212.02 201.57 L212.68 200.82 L213.34 200.07 L214.01 199.34 L214.67 198.62 L215.34 197.92 L216.00 197.25 L216.67 196.61 L217.33 196.00 L217.99 195.44 L218.66 194.92 L219.32 194.45 L219.99 194.04 L220.65 193.68 L221.32 193.39 L221.98 193.16 L222.64 192.99 L223.31 192.89 L223.97 192.86 L224.64 192.90 L225.30 193.00 L225.97 193.16 L226.63 193.38 L227.29 193.65 L227.96 193.98 L228.62 194.35 L229.29 194.76 L229.95 195.22 L230.62 195.70 L231.28 196.21 L231.94 196.75 L232.61 197.30 L233.27 197.87 L233.94 198.44 L234.60 199.02 L235.27 199.61 L235.93 200.19 L236.59 200.78 L237.26 201.35 L237.92 201.92 L238.59 202.48 L239.25 203.03 L239.92 203.57 L240.58 204.09 L241.24 204.60 L241.91 205.10 L242.57 205.58 L243.24 206.04 L243.90 206.49 L244.57 206.93 L245.23 207.35 L245.89 207.75 L246.56 208.14 L247.22 208.52 L247.89 208.88 L248.55 209.22 L249.22 209.56 L249.88 209.87 L250.54 210.18 L251.21 210.47 L251.87 210.75 L252.54 211.02 L253.20 211.28 L253.87 211.52 L254.53 211.76 L255.19 211.99 L255.86 212.20 L256.52 212.41 L257.19 212.60 L257.85 212.79 L258.51 212.97 L259.18 213.14 L259.84 213.30 L260.51 213.46 L261.17 213.61 L261.84 213.75 L262.50 213.88 L263.16 214.01 L263.83 214.13 L264.49 214.25 L265.16 214.36 L265.82 214.47 L266.49 214.57 L267.15 214.66 L267.81 214.75 L268.48 214.84 L269.14 214.92 L269.81 215.00 L270.47 215.07 L271.14 215.14 L271.80 215.20 L272.46 215.26 L273.13 215.32 L273.79 215.38 L274.46 215.43 L275.12 215.48 L275.79 215.52 L276.45 215.57 L277.11 215.61 L277.78 215.64 L278.44 215.68 L279.11 215.71 L279.77 215.74 L280.44 215.77 L281.10 215.80 L281.76 215.82 L282.43 215.84 L283.09 215.86 L283.76 215.88 L284.42 215.89 L285.09 215.91 L285.75 215.92 L286.41 215.93 L287.08 215.94 L287.74 215.95 L288.41 215.95 L289.07 215.96 L289.74 215.96 L290.40 215.97 L291.06 215.97 L291.73 215.97 L292.39 215.96 L293.06 215.96 L293.72 215.96 L294.39 215.95 L295.05 215.95 L295.71 215.94 L296.38 215.93 L297.04 215.92 L297.71 215.91 L298.37 215.90 L299.04 215.89 L299.70 215.88 L300.36 215.87 L301.03 215.85 L301.69 215.84 L302.36 215.82 L303.02 215.81 L303.69 215.79 L304.35 215.78 L305.01 215.76 L305.68 215.74 L306.34 215.72 L307.01 215.70 L307.67 215.68 L308.34 215.66 L309.00 215.64 L309.66 215.62 L310.33 215.60 L310.99 215.57 L311.66 215.55 L312.32 215.53 L312.99 215.51 L313.65 215.48 L314.31 215.46 L314.98 215.43 L315.64 215.41 L316.31 215.38 L316.97 215.36 L317.64 215.33 L318.30 215.30 L318.96 215.28 L319.63 215.25 L320.29 215.22 L320.96 215.20 L321.62 215.17 L322.29 215.14 L322.95 215.11 L323.61 215.09 L324.28 215.06 L324.94 215.03 L325.61 215.00 L326.27 214.97 L326.94 214.94 L327.60 214.91 L328.26 214.88 L328.93 214.85 L329.59 214.82 L330.26 214.79 L330.92 214.76 L331.59 214.73 L332.25 214.70 L332.91 214.67 L333.58 214.64 L334.24 214.61 L334.91 214.58 L335.57 214.55 L336.24 214.52 L336.90 214.49 L337.56 214.46 L338.23 214.43 L338.89 214.40 L339.56 214.37 L340.22 214.33 L340.89 214.30 L341.55 214.27 L342.21 214.24 L342.88 214.21 L343.54 214.18 L344.21 214.15 L344.87 214.12 L345.54 214.09 L346.20 214.05 L346.86 214.02 L347.53 213.99 L348.19 213.96 L348.86 213.93 L349.52 213.90 L350.19 213.87 L350.85 213.84 L351.51 213.80 L352.18 213.77 L352.84 213.74 L353.51 213.71 L354.17 213.68 L354.84 213.65 L355.50 213.62 L356.16 213.59 L356.83 213.56 L357.49 213.53 L358.16 213.50 L358.82 213.47 L359.48 213.44 L360.15 213.41 L360.81 213.38 L361.48 213.35 L362.14 213.32 L362.81 213.29 L363.47 213.26 L364.13 213.23 L364.80 213.20 L365.46 213.17 L366.13 213.14 L366.79 213.11 L367.46 213.08 L368.12 213.05 L368.78 213.02 L369.45 212.99 L370.11 212.96 L370.78 212.93 L371.44 212.90 L372.11 212.87 L372.77 212.85 L373.43 212.82 L374.10 212.79 L374.76 212.76 L375.43 212.73 L376.09 212.71 L376.76 212.68 L377.42 212.65 L378.08 212.62 L378.75 212.59 L379.41 212.57 L380.08 212.54 L380.74 212.51 L381.41 212.49 L382.07 212.46 L382.73 212.43 L383.40 212.41 L384.06 212.38 L384.73 212.35 L385.39 212.33 L386.06 212.30 L386.72 212.28 L387.38 212.25 L388.05 212.22 L388.71 212.20 L389.38 212.17 L390.04 212.15 L390.71 212.12 L391.37 212.10 L392.03 212.07 L392.70 212.05 L393.36 212.02 L394.03 212.00 L394.69 211.98 L395.36 211.95 L396.02 211.93 L396.68 211.90 L397.35 211.88 L398.01 211.86 L398.68 211.83 L399.34 211.81 L400.01 211.79 L400.67 211.76 L401.33 211.74 L402.00 211.72 L402.66 211.70 L403.33 211.67 L403.99 211.65 L404.66 211.63 L405.32 211.61 L405.98 211.58 L406.65 211.56 L407.31 211.54 L407.98 211.52 L408.64 211.50 L409.31 211.47 L409.97 211.45 L410.63 211.43 L411.30 211.41 L411.96 211.39 L412.63 211.37 L413.29 211.34 L413.96 211.32 L414.62 211.30 L415.28 211.28 L415.95 211.26 L416.61 211.24 L417.28 211.22 L417.94 211.19 L418.61 211.17 L419.27 211.15 L419.93 211.13" fill="none" stroke="#2244ff" stroke-width="3.5" stroke-dasharray="3.5 7.2" stroke-dashoffset="-0.30"/>
<path d="M88.46 232.41 L89.12 232.35 L89.79 232.28 L90.45 232.22 L91.12 232.15 L91.78 232.09 L92.45 232.02 L93.11 231.96 L93.77 231.89 L94.44 231.82 L95.10 231.76 L95.77 231.69 L96.43 231.62 L97.10 231.55 L97.76 231.48 L98.42 231.42 L99.09 231.35 L99.75 231.28 L100.42 231.21 L101.08 231.13 L101.75 231.06 L102.41 230.99 L103.07 230.92 L103.74 230.85 L104.40 230.77 L105.07 230.70 L105.73 230.63 L106.40 230.55 L107.06 230.48 L107.72 230.40 L108.39 230.32 L109.05 230.25 L109.72 230.17 L110.38 230.09 L111.05 230.01 L111.71 229.93 L112.37 229.85 L113.04 229.77 L113.70 229.69 L114.37 229.61 L115.03 229.53 L115.70 229.44 L116.36 229.36 L117.02 229.27 L117.69 229.19 L118.35 229.10 L119.02 229.01 L119.68 228.92 L120.35 228.84 L121.01 228.74 L121.67 228.65 L122.34 228.56 L123.00 228.47 L123.67 228.37 L124.33 228.28 L125.00 228.18 L125.66 228.09 L126.32 227.99 L126.99 227.89 L127.65 227.79 L128.32 227.68 L128.98 227.58 L129.65 227.48 L130.31 227.37 L130.97 227.26 L131.64 227.15 L132.30 227.04 L132.97 226.93 L133.63 226.82 L134.30 226.70 L134.96 226.58 L135.62 226.47 L136.29 226.34 L136.95 226.22 L137.62 226.10 L138.28 225.97 L138.95 225.84 L139.61 225.71 L140.27 225.58 L140.94 225.45 L141.60 225.31 L142.27 225.17 L142.93 225.03 L143.60 224.88 L144.26 224.74 L144.92 224.59 L145.59 224.44 L146.25 224.28 L146.92 224.12 L147.58 223.96 L148.25 223.80 L148.91 223.63 L149.57 223.46 L150.24 223.28 L150.90 223.10 L151.57 222.92 L152.23 222.73 L152.89 222.54 L153.56 222.35 L154.22 222.15 L154.89 221.94 L155.55 221.73 L156.22 221.52 L156.88 221.30 L157.54 221.08 L158.21 220.85 L158.87 220.61 L159.54 220.37 L160.20 220.12 L160.87 219.87 L161.53 219.61 L162.19 219.34 L162.86 219.06 L163.52 218.78 L164.19 218.49 L164.85 218.19 L165.52 217.88 L166.18 217.56 L166.84 217.24 L167.51 216.90 L168.17 216.55 L168.84 216.20 L169.50 215.83 L170.17 215.45 L170.83 215.06 L171.49 214.65 L172.16 214.24 L172.82 213.81 L173.49 213.36 L174.15 212.90 L174.82 212.42 L175.48 211.93 L176.14 211.42 L176.81 210.89 L177.47 210.34 L178.14 209.78 L178.80 209.19 L179.47 208.58 L180.13 207.95 L180.79 207.29 L181.46 206.61 L182.12 205.91 L182.79 205.17 L183.45 204.41 L184.12 203.61 L184.78 202.79 L185.44 201.93 L186.11 201.04 L186.77 200.11 L187.44 199.14 L188.10 198.13 L188.77 197.08 L189.43 195.99 L190.09 194.85 L190.76 193.66 L191.42 192.42 L192.09 191.12 L192.75 189.77 L193.42 188.37 L194.08 186.90 L194.74 185.37 L195.41 183.77 L196.07 182.10 L196.74 180.37 L197.40 178.55 L198.07 176.66 L198.73 174.69 L199.39 172.64 L200.06 170.51 L200.72 168.28 L201.39 165.97 L202.05 163.57 L202.72 161.07 L203.38 158.49 L204.04 155.81 L204.71 153.04 L205.37 150.18 L206.04 147.23 L206.70 144.20 L207.37 141.09 L208.03 137.91 L208.69 134.66 L209.36 131.36 L210.02 128.01 L210.69 124.63 L211.35 121.24 L212.02 117.84 L212.68 114.47 L213.34 111.13 L214.01 107.86 L214.67 104.67 L215.34 101.60 L216.00 98.66 L216.67 95.89 L217.33 93.31 L217.99 90.94 L218.66 88.80 L219.32 86.93 L219.99 85.33 L220.65 84.03 L221.32 83.03 L221.98 82.34 L222.64 81.97 L223.31 81.92 L223.97 82.17 L224.64 82.73 L225.30 83.58 L225.97 84.71 L226.63 86.09 L227.29 87.71 L227.96 89.55 L228.62 91.57 L229.29 93.76 L229.95 96.10 L230.62 98.56 L231.28 101.13 L231.94 103.76 L232.61 106.46 L233.27 109.20 L233.94 111.97 L234.60 114.74 L235.27 117.51 L235.93 120.26 L236.59 122.98 L237.26 125.67 L237.92 128.32 L238.59 130.92 L239.25 133.46 L239.92 135.94 L240.58 138.36 L241.24 140.72 L241.91 143.02 L242.57 145.24 L243.24 147.40 L243.90 149.49 L244.57 151.52 L245.23 153.48 L245.89 155.37 L246.56 157.20 L247.22 158.97 L247.89 160.67 L248.55 162.32 L249.22 163.90 L249.88 165.43 L250.54 166.91 L251.21 168.34 L251.87 169.71 L252.54 171.03 L253.20 172.31 L253.87 173.54 L254.53 174.73 L255.19 175.87 L255.86 176.97 L256.52 178.04 L257.19 179.07 L257.85 180.06 L258.51 181.01 L259.18 181.93 L259.84 182.83 L260.51 183.69 L261.17 184.52 L261.84 185.32 L262.50 186.09 L263.16 186.84 L263.83 187.56 L264.49 188.26 L265.16 188.94 L265.82 189.59 L266.49 190.22 L267.15 190.83 L267.81 191.43 L268.48 192.00 L269.14 192.55 L269.81 193.09 L270.47 193.61 L271.14 194.11 L271.80 194.60 L272.46 195.07 L273.13 195.53 L273.79 195.97 L274.46 196.40 L275.12 196.82 L275.79 197.23 L276.45 197.62 L277.11 198.00 L277.78 198.37 L278.44 198.73 L279.11 199.08 L279.77 199.41 L280.44 199.74 L281.10 200.06 L281.76 200.37 L282.43 200.67 L283.09 200.96 L283.76 201.25 L284.42 201.52 L285.09 201.79 L285.75 202.05 L286.41 202.30 L287.08 202.55 L287.74 202.79 L288.41 203.02 L289.07 203.25 L289.74 203.47 L290.40 203.68 L291.06 203.89 L291.73 204.09 L292.39 204.29 L293.06 204.48 L293.72 204.66 L294.39 204.85 L295.05 205.02 L295.71 205.19 L296.38 205.36 L297.04 205.52 L297.71 205.68 L298.37 205.83 L299.04 205.98 L299.70 206.13 L300.36 206.27 L301.03 206.41 L301.69 206.54 L302.36 206.67 L303.02 206.79 L303.69 206.92 L304.35 207.04 L305.01 207.15 L305.68 207.27 L306.34 207.37 L307.01 207.48 L307.67 207.58 L308.34 207.69 L309.00 207.78 L309.66 207.88 L310.33 207.97 L310.99 208.06 L311.66 208.15 L312.32 208.23 L312.99 208.31 L313.65 208.39 L314.31 208.47 L314.98 208.54 L315.64 208.61 L316.31 208.68 L316.97 208.75 L317.64 208.82 L318.30 208.88 L318.96 208.94 L319.63 209.00 L320.29 209.06 L320.96 209.12 L321.62 209.17 L322.29 209.22 L322.95 209.27 L323.61 209.32 L324.28 209.37 L324.94 209.41 L325.61 209.45 L326.27 209.50 L326.94 209.54 L327.60 209.57 L328.26 209.61 L328.93 209.65 L329.59 209.68 L330.26 209.71 L330.92 209.74 L331.59 209.77 L332.25 209.80 L332.91 209.83 L333.58 209.85 L334.24 209.88 L334.91 209.90 L335.57 209.92 L336.24 209.94 L336.90 209.96 L337.56 209.98 L338.23 210.00 L338.89 210.01 L339.56 210.03 L340.22 210.04 L340.89 210.06 L341.55 210.07 L342.21 210.08 L342.88 210.09 L343.54 210.10 L344.21 210.10 L344.87 210.11 L345.54 210.12 L346.20 210.12 L346.86 210.13 L347.53 210.13 L348.19 210.13 L348.86 210.13 L349.52 210.13 L350.19 210.13 L350.85 210.13 L351.51 210.13 L352.18 210.13 L352.84 210.13 L353.51 210.12 L354.17 210.12 L354.84 210.11 L355.50 210.11 L356.16 210.10 L356.83 210.09 L357.49 210.08 L358.16 210.08 L358.82 210.07 L359.48 210.06 L360.15 210.05 L360.81 210.03 L361.48 210.02 L362.14 210.01 L362.81 210.00 L363.47 209.98 L364.13 209.97 L364.80 209.96 L365.46 209.94 L366.13 209.93 L366.79 209.91 L367.46 209.89 L368.12 209.88 L368.78 209.86 L369.45 209.84 L370.11 209.82 L370.78 209.80 L371.44 209.78 L372.11 209.76 L372.77 209.74 L373.43 209.72 L374.10 209.70 L374.76 209.68 L375.43 209.66 L376.09 209.64 L376.76 209.62 L377.42 209.59 L378.08 209.57 L378.75 209.55 L379.41 209.52 L380.08 209.50 L380.74 209.47 L381.41 209.45 L382.07 209.42 L382.73 209.40 L383.40 209.37 L384.06 209.35 L384.73 209.32 L385.39 209.29 L386.06 209.27 L386.72 209.24 L387.38 209.21 L388.05 209.18 L388.71 209.16 L389.38 209.13 L390.04 209.10 L390.71 209.07 L391.37 209.04 L392.03 209.01 L392.70 208.98 L393.36 208.95 L394.03 208.92 L394.69 208.89 L395.36 208.86 L396.02 208.83 L396.68 208.80 L397.35 208.77 L398.01 208.74 L398.68 208.71 L399.34 208.68 L400.01 208.65 L400.67 208.61 L401.33 208.58 L402.00 208.55 L402.66 208.52 L403.33 208.49 L403.99 208.45 L404.66 208.42 L405.32 208.39 L405.98 208.35 L406.65 208.32 L407.31 208.29 L407.98 208.25 L408.64 208.22 L409.31 208.19 L409.97 208.15 L410.63 208.12 L411.30 208.09 L411.96 208.05 L412.63 208.02 L413.29 207.98 L413.96 207.95 L414.62 207.91 L415.28 207.88 L415.95 207.84 L416.61 207.81 L417.28 207.77 L417.94 207.74 L418.61 207.70 L419.27 207.67 L419.93 207.63" fill="none" stroke="#f00" stroke-width="3.5" stroke-linejoin="round"/>
</g>
<rect x="88.65" y="0.9" width="331.35" height="238.25" fill="none" stroke="#000" stroke-width="2.7"/>
<rect x="90.0" y="236.5" width="5.0" height="1.6" fill="#000"/><rect x="106.7" y="235.8" width="2.0" height="2.5" fill="#000"/>
<path d="M462.30 0V10.70 M462.30 240.5V229.80" stroke="#000" stroke-width="2.1" fill="none"/>
<path d="M516.90 0V10.70 M516.90 240.5V229.80" stroke="#000" stroke-width="2.1" fill="none"/>
<path d="M571.40 0V13.40 M571.40 240.5V227.10" stroke="#000" stroke-width="2.1" fill="none"/>
<path d="M626.10 0V10.30 M626.10 240.5V230.20" stroke="#000" stroke-width="2.1" fill="none"/>
<path d="M680.60 0V13.50 M680.60 240.5V227.00" stroke="#000" stroke-width="2.1" fill="none"/>
<path d="M734.80 0V10.30 M734.80 240.5V230.20" stroke="#000" stroke-width="2.1" fill="none"/>
<path d="M429.10 30.20H443.80" stroke="#000" stroke-width="2.1" fill="none"/>
<path d="M429.10 59.70H440.10" stroke="#000" stroke-width="2.1" fill="none"/>
<path d="M429.10 94.00H443.80" stroke="#000" stroke-width="2.1" fill="none"/>
<path d="M429.10 128.10H440.10" stroke="#000" stroke-width="2.1" fill="none"/>
<path d="M429.10 161.80H443.80" stroke="#000" stroke-width="2.1" fill="none"/>
<path d="M429.10 195.60H440.10" stroke="#000" stroke-width="2.1" fill="none"/>
<path d="M429.10 229.80H443.80" stroke="#000" stroke-width="2.1" fill="none"/>
<path d="M762.95 30.20H747.75" stroke="#000" stroke-width="2.1" fill="none"/>
<path d="M762.95 59.70H752.25" stroke="#000" stroke-width="2.1" fill="none"/>
<path d="M762.95 94.00H747.75" stroke="#000" stroke-width="2.1" fill="none"/>
<path d="M762.95 128.10H752.25" stroke="#000" stroke-width="2.1" fill="none"/>
<path d="M762.95 161.80H747.75" stroke="#000" stroke-width="2.1" fill="none"/>
<path d="M762.95 195.60H752.25" stroke="#000" stroke-width="2.1" fill="none"/>
<path d="M762.95 229.80H747.75" stroke="#000" stroke-width="2.1" fill="none"/>
<g clip-path="url(#cb)">
<line x1="430.45" x2="761.60" y1="229.75" y2="229.75" stroke="#000" stroke-width="1.7"/>
<path d="M432.41 225.49V230.20" stroke="#000" stroke-width="2.0" fill="none"/>
<path d="M428.81 229.80H436.01" stroke="#000" stroke-width="1.7" fill="none"/>
<circle cx="432.41" cy="229.80" r="2.1" fill="#000"/>
<path d="M437.87 225.49V230.20" stroke="#000" stroke-width="2.0" fill="none"/>
<path d="M434.27 229.80H441.47" stroke="#000" stroke-width="1.7" fill="none"/>
<circle cx="437.87" cy="229.80" r="2.1" fill="#000"/>
<path d="M443.32 225.49V230.20" stroke="#000" stroke-width="2.0" fill="none"/>
<path d="M439.72 229.80H446.92" stroke="#000" stroke-width="1.7" fill="none"/>
<circle cx="443.32" cy="229.80" r="2.1" fill="#000"/>
<path d="M448.77 225.49V230.20" stroke="#000" stroke-width="2.0" fill="none"/>
<path d="M445.17 229.80H452.37" stroke="#000" stroke-width="1.7" fill="none"/>
<circle cx="448.77" cy="229.80" r="2.1" fill="#000"/>
<path d="M454.22 225.49V230.20" stroke="#000" stroke-width="2.0" fill="none"/>
<path d="M450.62 229.80H457.82" stroke="#000" stroke-width="1.7" fill="none"/>
<circle cx="454.22" cy="229.80" r="2.1" fill="#000"/>
<path d="M459.67 225.49V230.20" stroke="#000" stroke-width="2.0" fill="none"/>
<path d="M456.07 229.80H463.27" stroke="#000" stroke-width="1.7" fill="none"/>
<circle cx="459.67" cy="229.80" r="2.1" fill="#000"/>
<path d="M465.13 218.18V229.61" stroke="#000" stroke-width="2.0" fill="none"/>
<path d="M461.53 226.40H468.73" stroke="#000" stroke-width="1.7" fill="none"/>
<circle cx="465.13" cy="226.40" r="2.1" fill="#000"/>
<path d="M470.58 225.49V230.20" stroke="#000" stroke-width="2.0" fill="none"/>
<path d="M466.98 229.80H474.18" stroke="#000" stroke-width="1.7" fill="none"/>
<circle cx="470.58" cy="229.80" r="2.1" fill="#000"/>
<path d="M476.03 225.49V230.20" stroke="#000" stroke-width="2.0" fill="none"/>
<path d="M472.43 229.80H479.63" stroke="#000" stroke-width="1.7" fill="none"/>
<circle cx="476.03" cy="229.80" r="2.1" fill="#000"/>
<path d="M481.48 218.18V229.61" stroke="#000" stroke-width="2.0" fill="none"/>
<path d="M477.88 226.40H485.08" stroke="#000" stroke-width="1.7" fill="none"/>
<circle cx="481.48" cy="226.40" r="2.1" fill="#000"/>
<path d="M486.93 218.18V229.61" stroke="#000" stroke-width="2.0" fill="none"/>
<path d="M483.33 226.40H490.53" stroke="#000" stroke-width="1.7" fill="none"/>
<circle cx="486.93" cy="226.40" r="2.1" fill="#000"/>
<path d="M492.39 225.49V230.20" stroke="#000" stroke-width="2.0" fill="none"/>
<path d="M488.79 229.80H495.99" stroke="#000" stroke-width="1.7" fill="none"/>
<circle cx="492.39" cy="229.80" r="2.1" fill="#000"/>
<path d="M497.84 218.18V229.61" stroke="#000" stroke-width="2.0" fill="none"/>
<path d="M494.24 226.40H501.44" stroke="#000" stroke-width="1.7" fill="none"/>
<circle cx="497.84" cy="226.40" r="2.1" fill="#000"/>
<path d="M503.29 213.63V227.79" stroke="#000" stroke-width="2.0" fill="none"/>
<path d="M499.69 223.00H506.89" stroke="#000" stroke-width="1.7" fill="none"/>
<circle cx="503.29" cy="223.00" r="2.1" fill="#000"/>
<path d="M508.74 188.79V212.41" stroke="#000" stroke-width="2.0" fill="none"/>
<path d="M505.14 202.60H512.34" stroke="#000" stroke-width="1.7" fill="none"/>
<circle cx="508.74" cy="202.60" r="2.1" fill="#000"/>
<path d="M514.19 205.05V223.11" stroke="#000" stroke-width="2.0" fill="none"/>
<path d="M510.59 216.20H517.79" stroke="#000" stroke-width="1.7" fill="none"/>
<circle cx="514.19" cy="216.20" r="2.1" fill="#000"/>
<path d="M519.65 209.28V225.55" stroke="#000" stroke-width="2.0" fill="none"/>
<path d="M516.05 219.60H523.25" stroke="#000" stroke-width="1.7" fill="none"/>
<circle cx="519.65" cy="219.60" r="2.1" fill="#000"/>
<path d="M525.10 209.28V225.55" stroke="#000" stroke-width="2.0" fill="none"/>
<path d="M521.50 219.60H528.70" stroke="#000" stroke-width="1.7" fill="none"/>
<circle cx="525.10" cy="219.60" r="2.1" fill="#000"/>
<path d="M530.55 180.89V206.77" stroke="#000" stroke-width="2.0" fill="none"/>
<path d="M526.95 195.80H534.15" stroke="#000" stroke-width="1.7" fill="none"/>
<circle cx="530.55" cy="195.80" r="2.1" fill="#000"/>
<path d="M536.00 173.10V201.01" stroke="#000" stroke-width="2.0" fill="none"/>
<path d="M532.40 189.00H539.60" stroke="#000" stroke-width="1.7" fill="none"/>
<circle cx="536.00" cy="189.00" r="2.1" fill="#000"/>
<path d="M541.45 150.11V183.29" stroke="#000" stroke-width="2.0" fill="none"/>
<path d="M537.85 168.60H545.05" stroke="#000" stroke-width="1.7" fill="none"/>
<circle cx="541.45" cy="168.60" r="2.1" fill="#000"/>
<path d="M546.91 131.26V168.19" stroke="#000" stroke-width="2.0" fill="none"/>
<path d="M543.31 151.60H550.51" stroke="#000" stroke-width="1.7" fill="none"/>
<circle cx="546.91" cy="151.60" r="2.1" fill="#000"/>
<path d="M552.36 75.66V121.87" stroke="#000" stroke-width="2.0" fill="none"/>
<path d="M548.76 100.60H555.96" stroke="#000" stroke-width="1.7" fill="none"/>
<circle cx="552.36" cy="100.60" r="2.1" fill="#000"/>
<path d="M557.81 90.38V134.33" stroke="#000" stroke-width="2.0" fill="none"/>
<path d="M554.21 114.20H561.41" stroke="#000" stroke-width="1.7" fill="none"/>
<circle cx="557.81" cy="114.20" r="2.1" fill="#000"/>
<path d="M563.26 71.99V118.74" stroke="#000" stroke-width="2.0" fill="none"/>
<path d="M559.66 97.20H566.86" stroke="#000" stroke-width="1.7" fill="none"/>
<circle cx="563.26" cy="97.20" r="2.1" fill="#000"/>
<path d="M568.71 35.44V87.32" stroke="#000" stroke-width="2.0" fill="none"/>
<path d="M565.11 63.20H572.31" stroke="#000" stroke-width="1.7" fill="none"/>
<circle cx="568.71" cy="63.20" r="2.1" fill="#000"/>
<path d="M574.17 71.99V118.74" stroke="#000" stroke-width="2.0" fill="none"/>
<path d="M570.57 97.20H577.77" stroke="#000" stroke-width="1.7" fill="none"/>
<circle cx="574.17" cy="97.20" r="2.1" fill="#000"/>
<path d="M579.62 94.07V137.43" stroke="#000" stroke-width="2.0" fill="none"/>
<path d="M576.02 117.60H583.22" stroke="#000" stroke-width="1.7" fill="none"/>
<circle cx="579.62" cy="117.60" r="2.1" fill="#000"/>
<path d="M585.07 120.04V159.02" stroke="#000" stroke-width="2.0" fill="none"/>
<path d="M581.47 141.40H588.67" stroke="#000" stroke-width="1.7" fill="none"/>
<circle cx="585.07" cy="141.40" r="2.1" fill="#000"/>
<path d="M590.52 157.72V189.26" stroke="#000" stroke-width="2.0" fill="none"/>
<path d="M586.92 175.40H594.12" stroke="#000" stroke-width="1.7" fill="none"/>
<circle cx="590.52" cy="175.40" r="2.1" fill="#000"/>
<path d="M595.97 150.11V183.29" stroke="#000" stroke-width="2.0" fill="none"/>
<path d="M592.37 168.60H599.57" stroke="#000" stroke-width="1.7" fill="none"/>
<circle cx="595.97" cy="168.60" r="2.1" fill="#000"/>
<path d="M601.43 150.11V183.29" stroke="#000" stroke-width="2.0" fill="none"/>
<path d="M597.83 168.60H605.03" stroke="#000" stroke-width="1.7" fill="none"/>
<circle cx="601.43" cy="168.60" r="2.1" fill="#000"/>
<path d="M606.88 161.54V192.22" stroke="#000" stroke-width="2.0" fill="none"/>
<path d="M603.28 178.80H610.48" stroke="#000" stroke-width="1.7" fill="none"/>
<circle cx="606.88" cy="178.80" r="2.1" fill="#000"/>
<path d="M612.33 153.91V186.28" stroke="#000" stroke-width="2.0" fill="none"/>
<path d="M608.73 172.00H615.93" stroke="#000" stroke-width="1.7" fill="none"/>
<circle cx="612.33" cy="172.00" r="2.1" fill="#000"/>
<path d="M617.78 180.89V206.77" stroke="#000" stroke-width="2.0" fill="none"/>
<path d="M614.18 195.80H621.38" stroke="#000" stroke-width="1.7" fill="none"/>
<circle cx="617.78" cy="195.80" r="2.1" fill="#000"/>
<path d="M623.23 184.83V209.61" stroke="#000" stroke-width="2.0" fill="none"/>
<path d="M619.63 199.20H626.83" stroke="#000" stroke-width="1.7" fill="none"/>
<circle cx="623.23" cy="199.20" r="2.1" fill="#000"/>
<path d="M628.69 200.90V220.54" stroke="#000" stroke-width="2.0" fill="none"/>
<path d="M625.09 212.80H632.29" stroke="#000" stroke-width="1.7" fill="none"/>
<circle cx="628.69" cy="212.80" r="2.1" fill="#000"/>
<path d="M634.14 200.90V220.54" stroke="#000" stroke-width="2.0" fill="none"/>
<path d="M630.54 212.80H637.74" stroke="#000" stroke-width="1.7" fill="none"/>
<circle cx="634.14" cy="212.80" r="2.1" fill="#000"/>
<path d="M639.59 184.83V209.61" stroke="#000" stroke-width="2.0" fill="none"/>
<path d="M635.99 199.20H643.19" stroke="#000" stroke-width="1.7" fill="none"/>
<circle cx="639.59" cy="199.20" r="2.1" fill="#000"/>
<path d="M645.04 200.90V220.54" stroke="#000" stroke-width="2.0" fill="none"/>
<path d="M641.44 212.80H648.64" stroke="#000" stroke-width="1.7" fill="none"/>
<circle cx="645.04" cy="212.80" r="2.1" fill="#000"/>
<path d="M650.49 176.98V203.90" stroke="#000" stroke-width="2.0" fill="none"/>
<path d="M646.89 192.40H654.09" stroke="#000" stroke-width="1.7" fill="none"/>
<circle cx="650.49" cy="192.40" r="2.1" fill="#000"/>
<path d="M655.95 192.78V215.18" stroke="#000" stroke-width="2.0" fill="none"/>
<path d="M652.35 206.00H659.55" stroke="#000" stroke-width="1.7" fill="none"/>
<circle cx="655.95" cy="206.00" r="2.1" fill="#000"/>
<path d="M661.40 176.98V203.90" stroke="#000" stroke-width="2.0" fill="none"/>
<path d="M657.80 192.40H665.00" stroke="#000" stroke-width="1.7" fill="none"/>
<circle cx="661.40" cy="192.40" r="2.1" fill="#000"/>
<path d="M666.85 196.82V217.89" stroke="#000" stroke-width="2.0" fill="none"/>
<path d="M663.25 209.40H670.45" stroke="#000" stroke-width="1.7" fill="none"/>
<circle cx="666.85" cy="209.40" r="2.1" fill="#000"/>
<path d="M672.30 200.90V220.54" stroke="#000" stroke-width="2.0" fill="none"/>
<path d="M668.70 212.80H675.90" stroke="#000" stroke-width="1.7" fill="none"/>
<circle cx="672.30" cy="212.80" r="2.1" fill="#000"/>
<path d="M677.75 180.89V206.77" stroke="#000" stroke-width="2.0" fill="none"/>
<path d="M674.15 195.80H681.35" stroke="#000" stroke-width="1.7" fill="none"/>
<circle cx="677.75" cy="195.80" r="2.1" fill="#000"/>
<path d="M683.21 205.05V223.11" stroke="#000" stroke-width="2.0" fill="none"/>
<path d="M679.61 216.20H686.81" stroke="#000" stroke-width="1.7" fill="none"/>
<circle cx="683.21" cy="216.20" r="2.1" fill="#000"/>
<path d="M688.66 205.05V223.11" stroke="#000" stroke-width="2.0" fill="none"/>
<path d="M685.06 216.20H692.26" stroke="#000" stroke-width="1.7" fill="none"/>
<circle cx="688.66" cy="216.20" r="2.1" fill="#000"/>
<path d="M694.11 196.82V217.89" stroke="#000" stroke-width="2.0" fill="none"/>
<path d="M690.51 209.40H697.71" stroke="#000" stroke-width="1.7" fill="none"/>
<circle cx="694.11" cy="209.40" r="2.1" fill="#000"/>
<path d="M699.56 180.89V206.77" stroke="#000" stroke-width="2.0" fill="none"/>
<path d="M695.96 195.80H703.16" stroke="#000" stroke-width="1.7" fill="none"/>
<circle cx="699.56" cy="195.80" r="2.1" fill="#000"/>
<path d="M705.01 184.83V209.61" stroke="#000" stroke-width="2.0" fill="none"/>
<path d="M701.41 199.20H708.61" stroke="#000" stroke-width="1.7" fill="none"/>
<circle cx="705.01" cy="199.20" r="2.1" fill="#000"/>
<path d="M710.47 205.05V223.11" stroke="#000" stroke-width="2.0" fill="none"/>
<path d="M706.87 216.20H714.07" stroke="#000" stroke-width="1.7" fill="none"/>
<circle cx="710.47" cy="216.20" r="2.1" fill="#000"/>
<path d="M715.92 200.90V220.54" stroke="#000" stroke-width="2.0" fill="none"/>
<path d="M712.32 212.80H719.52" stroke="#000" stroke-width="1.7" fill="none"/>
<circle cx="715.92" cy="212.80" r="2.1" fill="#000"/>
<path d="M721.37 200.90V220.54" stroke="#000" stroke-width="2.0" fill="none"/>
<path d="M717.77 212.80H724.97" stroke="#000" stroke-width="1.7" fill="none"/>
<circle cx="721.37" cy="212.80" r="2.1" fill="#000"/>
<path d="M726.82 209.28V225.55" stroke="#000" stroke-width="2.0" fill="none"/>
<path d="M723.22 219.60H730.42" stroke="#000" stroke-width="1.7" fill="none"/>
<circle cx="726.82" cy="219.60" r="2.1" fill="#000"/>
<path d="M732.27 188.79V212.41" stroke="#000" stroke-width="2.0" fill="none"/>
<path d="M728.67 202.60H735.87" stroke="#000" stroke-width="1.7" fill="none"/>
<circle cx="732.27" cy="202.60" r="2.1" fill="#000"/>
<path d="M737.73 188.79V212.41" stroke="#000" stroke-width="2.0" fill="none"/>
<path d="M734.13 202.60H741.33" stroke="#000" stroke-width="1.7" fill="none"/>
<circle cx="737.73" cy="202.60" r="2.1" fill="#000"/>
<path d="M743.18 192.78V215.18" stroke="#000" stroke-width="2.0" fill="none"/>
<path d="M739.58 206.00H746.78" stroke="#000" stroke-width="1.7" fill="none"/>
<circle cx="743.18" cy="206.00" r="2.1" fill="#000"/>
<path d="M748.63 218.18V229.61" stroke="#000" stroke-width="2.0" fill="none"/>
<path d="M745.03 226.40H752.23" stroke="#000" stroke-width="1.7" fill="none"/>
<circle cx="748.63" cy="226.40" r="2.1" fill="#000"/>
<path d="M754.08 188.79V212.41" stroke="#000" stroke-width="2.0" fill="none"/>
<path d="M750.48 202.60H757.68" stroke="#000" stroke-width="1.7" fill="none"/>
<circle cx="754.08" cy="202.60" r="2.1" fill="#000"/>
<path d="M759.53 188.79V212.41" stroke="#000" stroke-width="2.0" fill="none"/>
<path d="M755.93 202.60H763.13" stroke="#000" stroke-width="1.7" fill="none"/>
<circle cx="759.53" cy="202.60" r="2.1" fill="#000"/>
<path d="M429.55 232.84 L430.22 232.79 L430.88 232.75 L431.55 232.71 L432.22 232.67 L432.88 232.63 L433.55 232.59 L434.22 232.55 L434.88 232.51 L435.55 232.47 L436.22 232.43 L436.88 232.40 L437.55 232.36 L438.22 232.32 L438.88 232.28 L439.55 232.25 L440.22 232.21 L440.88 232.17 L441.55 232.14 L442.21 232.10 L442.88 232.06 L443.55 232.03 L444.21 231.99 L444.88 231.96 L445.55 231.92 L446.21 231.89 L446.88 231.86 L447.55 231.82 L448.21 231.79 L448.88 231.76 L449.55 231.72 L450.21 231.69 L450.88 231.66 L451.55 231.63 L452.21 231.59 L452.88 231.56 L453.54 231.53 L454.21 231.50 L454.88 231.47 L455.54 231.44 L456.21 231.41 L456.88 231.38 L457.54 231.35 L458.21 231.32 L458.88 231.29 L459.54 231.26 L460.21 231.23 L460.88 231.20 L461.54 231.17 L462.21 231.15 L462.88 231.12 L463.54 231.09 L464.21 231.06 L464.87 231.04 L465.54 231.01 L466.21 230.98 L466.87 230.95 L467.54 230.93 L468.21 230.90 L468.87 230.88 L469.54 230.85 L470.21 230.82 L470.87 230.80 L471.54 230.77 L472.21 230.75 L472.87 230.72 L473.54 230.70 L474.21 230.67 L474.87 230.65 L475.54 230.62 L476.21 230.60 L476.87 230.58 L477.54 230.55 L478.20 230.53 L478.87 230.51 L479.54 230.48 L480.20 230.46 L480.87 230.44 L481.54 230.41 L482.20 230.39 L482.87 230.37 L483.54 230.35 L484.20 230.32 L484.87 230.30 L485.54 230.28 L486.20 230.26 L486.87 230.24 L487.54 230.22 L488.20 230.20 L488.87 230.17 L489.53 230.15 L490.20 230.13 L490.87 230.11 L491.53 230.09 L492.20 230.07 L492.87 230.05 L493.53 230.03 L494.20 230.01 L494.87 229.99 L495.53 229.97 L496.20 229.95 L496.87 229.93 L497.53 229.91 L498.20 229.89 L498.87 229.87 L499.53 229.85 L500.20 229.84 L500.86 229.82 L501.53 229.80 L502.20 229.78 L502.86 229.76 L503.53 229.74 L504.20 229.72 L504.86 229.71 L505.53 229.69 L506.20 229.67 L506.86 229.65 L507.53 229.63 L508.20 229.62 L508.86 229.60 L509.53 229.58 L510.20 229.56 L510.86 229.55 L511.53 229.53 L512.19 229.51 L512.86 229.49 L513.53 229.48 L514.19 229.46 L514.86 229.44 L515.53 229.43 L516.19 229.41 L516.86 229.39 L517.53 229.37 L518.19 229.36 L518.86 229.34 L519.53 229.33 L520.19 229.31 L520.86 229.29 L521.53 229.28 L522.19 229.26 L522.86 229.24 L523.52 229.23 L524.19 229.21 L524.86 229.20 L525.52 229.18 L526.19 229.16 L526.86 229.15 L527.52 229.13 L528.19 229.12 L528.86 229.10 L529.52 229.08 L530.19 229.07 L530.86 229.05 L531.52 229.04 L532.19 229.02 L532.86 229.01 L533.52 228.99 L534.19 228.98 L534.86 228.96 L535.52 228.94 L536.19 228.93 L536.85 228.91 L537.52 228.90 L538.19 228.88 L538.85 228.87 L539.52 228.85 L540.19 228.84 L540.85 228.82 L541.52 228.81 L542.19 228.79 L542.85 228.78 L543.52 228.76 L544.19 228.75 L544.85 228.73 L545.52 228.72 L546.19 228.70 L546.85 228.69 L547.52 228.67 L548.18 228.66 L548.85 228.64 L549.52 228.63 L550.18 228.61 L550.85 228.60 L551.52 228.58 L552.18 228.57 L552.85 228.55 L553.52 228.54 L554.18 228.52 L554.85 228.51 L555.52 228.49 L556.18 228.48 L556.85 228.46 L557.52 228.45 L558.18 228.43 L558.85 228.42 L559.51 228.40 L560.18 228.39 L560.85 228.37 L561.51 228.36 L562.18 228.34 L562.85 228.33 L563.51 228.31 L564.18 228.30 L564.85 228.28 L565.51 228.27 L566.18 228.25 L566.85 228.24 L567.51 228.22 L568.18 228.21 L568.85 228.19 L569.51 228.18 L570.18 228.16 L570.84 228.15 L571.51 228.13 L572.18 228.12 L572.84 228.10 L573.51 228.09 L574.18 228.07 L574.84 228.06 L575.51 228.04 L576.18 228.03 L576.84 228.01 L577.51 228.00 L578.18 227.98 L578.84 227.97 L579.51 227.95 L580.18 227.93 L580.84 227.92 L581.51 227.90 L582.17 227.89 L582.84 227.87 L583.51 227.86 L584.17 227.84 L584.84 227.83 L585.51 227.81 L586.17 227.79 L586.84 227.78 L587.51 227.76 L588.17 227.75 L588.84 227.73 L589.51 227.72 L590.17 227.70 L590.84 227.68 L591.51 227.67 L592.17 227.65 L592.84 227.64 L593.51 227.62 L594.17 227.60 L594.84 227.59 L595.50 227.57 L596.17 227.56 L596.84 227.54 L597.50 227.52 L598.17 227.51 L598.84 227.49 L599.50 227.47 L600.17 227.46 L600.84 227.44 L601.50 227.42 L602.17 227.41 L602.84 227.39 L603.50 227.38 L604.17 227.36 L604.84 227.34 L605.50 227.33 L606.17 227.31 L606.83 227.29 L607.50 227.27 L608.17 227.26 L608.83 227.24 L609.50 227.22 L610.17 227.21 L610.83 227.19 L611.50 227.17 L612.17 227.16 L612.83 227.14 L613.50 227.12 L614.17 227.10 L614.83 227.09 L615.50 227.07 L616.17 227.05 L616.83 227.04 L617.50 227.02 L618.16 227.00 L618.83 226.98 L619.50 226.97 L620.16 226.95 L620.83 226.93 L621.50 226.91 L622.16 226.89 L622.83 226.88 L623.50 226.86 L624.16 226.84 L624.83 226.82 L625.50 226.81 L626.16 226.79 L626.83 226.77 L627.50 226.75 L628.16 226.73 L628.83 226.72 L629.49 226.70 L630.16 226.68 L630.83 226.66 L631.49 226.64 L632.16 226.62 L632.83 226.61 L633.49 226.59 L634.16 226.57 L634.83 226.55 L635.49 226.53 L636.16 226.51 L636.83 226.50 L637.49 226.48 L638.16 226.46 L638.83 226.44 L639.49 226.42 L640.16 226.40 L640.82 226.38 L641.49 226.37 L642.16 226.35 L642.82 226.33 L643.49 226.31 L644.16 226.29 L644.82 226.27 L645.49 226.25 L646.16 226.23 L646.82 226.21 L647.49 226.20 L648.16 226.18 L648.82 226.16 L649.49 226.14 L650.16 226.12 L650.82 226.10 L651.49 226.08 L652.16 226.06 L652.82 226.04 L653.49 226.02 L654.15 226.00 L654.82 225.99 L655.49 225.97 L656.15 225.95 L656.82 225.93 L657.49 225.91 L658.15 225.89 L658.82 225.87 L659.49 225.85 L660.15 225.83 L660.82 225.81 L661.49 225.79 L662.15 225.77 L662.82 225.75 L663.49 225.73 L664.15 225.71 L664.82 225.69 L665.48 225.67 L666.15 225.66 L666.82 225.64 L667.48 225.62 L668.15 225.60 L668.82 225.58 L669.48 225.56 L670.15 225.54 L670.82 225.52 L671.48 225.50 L672.15 225.48 L672.82 225.46 L673.48 225.44 L674.15 225.42 L674.82 225.40 L675.48 225.38 L676.15 225.36 L676.81 225.34 L677.48 225.32 L678.15 225.30 L678.81 225.28 L679.48 225.26 L680.15 225.24 L680.81 225.22 L681.48 225.21 L682.15 225.19 L682.81 225.17 L683.48 225.15 L684.15 225.13 L684.81 225.11 L685.48 225.09 L686.15 225.07 L686.81 225.05 L687.48 225.03 L688.14 225.01 L688.81 224.99 L689.48 224.97 L690.14 224.95 L690.81 224.93 L691.48 224.91 L692.14 224.90 L692.81 224.88 L693.48 224.86 L694.14 224.84 L694.81 224.82 L695.48 224.80 L696.14 224.78 L696.81 224.76 L697.48 224.74 L698.14 224.72 L698.81 224.71 L699.47 224.69 L700.14 224.67 L700.81 224.65 L701.47 224.63 L702.14 224.61 L702.81 224.59 L703.47 224.58 L704.14 224.56 L704.81 224.54 L705.47 224.52 L706.14 224.50 L706.81 224.48 L707.47 224.47 L708.14 224.45 L708.81 224.43 L709.47 224.41 L710.14 224.39 L710.80 224.38 L711.47 224.36 L712.14 224.34 L712.80 224.32 L713.47 224.31 L714.14 224.29 L714.80 224.27 L715.47 224.25 L716.14 224.24 L716.80 224.22 L717.47 224.20 L718.14 224.18 L718.80 224.17 L719.47 224.15 L720.14 224.13 L720.80 224.12 L721.47 224.10 L722.14 224.09 L722.80 224.07 L723.47 224.05 L724.13 224.04 L724.80 224.02 L725.47 224.00 L726.13 223.99 L726.80 223.97 L727.47 223.96 L728.13 223.94 L728.80 223.93 L729.47 223.91 L730.13 223.90 L730.80 223.88 L731.47 223.87 L732.13 223.85 L732.80 223.84 L733.47 223.82 L734.13 223.81 L734.80 223.79 L735.46 223.78 L736.13 223.77 L736.80 223.75 L737.46 223.74 L738.13 223.72 L738.80 223.71 L739.46 223.70 L740.13 223.68 L740.80 223.67 L741.46 223.66 L742.13 223.65 L742.80 223.63 L743.46 223.62 L744.13 223.61 L744.80 223.60 L745.46 223.58 L746.13 223.57 L746.79 223.56 L747.46 223.55 L748.13 223.54 L748.79 223.53 L749.46 223.52 L750.13 223.51 L750.79 223.49 L751.46 223.48 L752.13 223.47 L752.79 223.46 L753.46 223.45 L754.13 223.44 L754.79 223.43 L755.46 223.43 L756.13 223.42 L756.79 223.41 L757.46 223.40 L758.12 223.39 L758.79 223.38 L759.46 223.37 L760.12 223.37 L760.79 223.36 L761.46 223.35 L762.12 223.34" fill="none" stroke="#2244ff" stroke-width="3.5" stroke-dasharray="10.3 11.17" stroke-dashoffset="0.37"/>
<path d="M429.55 232.33 L430.22 232.29 L430.88 232.24 L431.55 232.20 L432.22 232.15 L432.88 232.11 L433.55 232.06 L434.22 232.02 L434.88 231.97 L435.55 231.93 L436.22 231.89 L436.88 231.85 L437.55 231.80 L438.22 231.76 L438.88 231.72 L439.55 231.68 L440.22 231.63 L440.88 231.59 L441.55 231.55 L442.21 231.51 L442.88 231.47 L443.55 231.43 L444.21 231.39 L444.88 231.35 L445.55 231.31 L446.21 231.27 L446.88 231.23 L447.55 231.19 L448.21 231.15 L448.88 231.11 L449.55 231.07 L450.21 231.03 L450.88 231.00 L451.55 230.96 L452.21 230.92 L452.88 230.88 L453.54 230.84 L454.21 230.81 L454.88 230.77 L455.54 230.73 L456.21 230.70 L456.88 230.66 L457.54 230.62 L458.21 230.58 L458.88 230.55 L459.54 230.51 L460.21 230.48 L460.88 230.44 L461.54 230.40 L462.21 230.37 L462.88 230.33 L463.54 230.29 L464.21 230.26 L464.87 230.22 L465.54 230.19 L466.21 230.15 L466.87 230.12 L467.54 230.08 L468.21 230.04 L468.87 230.01 L469.54 229.97 L470.21 229.94 L470.87 229.90 L471.54 229.86 L472.21 229.83 L472.87 229.79 L473.54 229.76 L474.21 229.72 L474.87 229.68 L475.54 229.65 L476.21 229.61 L476.87 229.57 L477.54 229.54 L478.20 229.50 L478.87 229.46 L479.54 229.43 L480.20 229.39 L480.87 229.35 L481.54 229.31 L482.20 229.27 L482.87 229.24 L483.54 229.20 L484.20 229.16 L484.87 229.12 L485.54 229.08 L486.20 229.04 L486.87 229.00 L487.54 228.95 L488.20 228.91 L488.87 228.87 L489.53 228.83 L490.20 228.78 L490.87 228.74 L491.53 228.70 L492.20 228.65 L492.87 228.60 L493.53 228.56 L494.20 228.51 L494.87 228.46 L495.53 228.41 L496.20 228.36 L496.87 228.31 L497.53 228.26 L498.20 228.21 L498.87 228.15 L499.53 228.10 L500.20 228.04 L500.86 227.99 L501.53 227.93 L502.20 227.87 L502.86 227.81 L503.53 227.74 L504.20 227.68 L504.86 227.61 L505.53 227.55 L506.20 227.48 L506.86 227.41 L507.53 227.33 L508.20 227.26 L508.86 227.18 L509.53 227.10 L510.20 227.02 L510.86 226.93 L511.53 226.85 L512.19 226.76 L512.86 226.66 L513.53 226.57 L514.19 226.47 L514.86 226.37 L515.53 226.26 L516.19 226.15 L516.86 226.04 L517.53 225.93 L518.19 225.80 L518.86 225.68 L519.53 225.55 L520.19 225.41 L520.86 225.27 L521.53 225.13 L522.19 224.98 L522.86 224.82 L523.52 224.66 L524.19 224.49 L524.86 224.31 L525.52 224.13 L526.19 223.94 L526.86 223.74 L527.52 223.53 L528.19 223.32 L528.86 223.09 L529.52 222.86 L530.19 222.61 L530.86 222.36 L531.52 222.09 L532.19 221.81 L532.86 221.52 L533.52 221.22 L534.19 220.90 L534.86 220.57 L535.52 220.22 L536.19 219.86 L536.85 219.49 L537.52 219.09 L538.19 218.68 L538.85 218.25 L539.52 217.80 L540.19 217.33 L540.85 216.85 L541.52 216.34 L542.19 215.81 L542.85 215.26 L543.52 214.68 L544.19 214.09 L544.85 213.47 L545.52 212.83 L546.19 212.17 L546.85 211.49 L547.52 210.79 L548.18 210.06 L548.85 209.32 L549.52 208.57 L550.18 207.79 L550.85 207.01 L551.52 206.22 L552.18 205.42 L552.85 204.62 L553.52 203.82 L554.18 203.03 L554.85 202.25 L555.52 201.49 L556.18 200.75 L556.85 200.04 L557.52 199.37 L558.18 198.73 L558.85 198.15 L559.51 197.61 L560.18 197.13 L560.85 196.72 L561.51 196.37 L562.18 196.09 L562.85 195.88 L563.51 195.74 L564.18 195.67 L564.85 195.68 L565.51 195.75 L566.18 195.89 L566.85 196.10 L567.51 196.36 L568.18 196.69 L568.85 197.06 L569.51 197.48 L570.18 197.94 L570.84 198.43 L571.51 198.96 L572.18 199.51 L572.84 200.08 L573.51 200.67 L574.18 201.27 L574.84 201.87 L575.51 202.49 L576.18 203.10 L576.84 203.71 L577.51 204.32 L578.18 204.93 L578.84 205.52 L579.51 206.11 L580.18 206.68 L580.84 207.25 L581.51 207.80 L582.17 208.33 L582.84 208.86 L583.51 209.37 L584.17 209.86 L584.84 210.34 L585.51 210.81 L586.17 211.26 L586.84 211.70 L587.51 212.12 L588.17 212.53 L588.84 212.93 L589.51 213.31 L590.17 213.68 L590.84 214.04 L591.51 214.38 L592.17 214.71 L592.84 215.03 L593.51 215.34 L594.17 215.64 L594.84 215.93 L595.50 216.21 L596.17 216.48 L596.84 216.74 L597.50 216.99 L598.17 217.23 L598.84 217.47 L599.50 217.69 L600.17 217.91 L600.84 218.12 L601.50 218.32 L602.17 218.52 L602.84 218.71 L603.50 218.89 L604.17 219.07 L604.84 219.24 L605.50 219.41 L606.17 219.57 L606.83 219.72 L607.50 219.87 L608.17 220.02 L608.83 220.16 L609.50 220.29 L610.17 220.42 L610.83 220.55 L611.50 220.67 L612.17 220.79 L612.83 220.90 L613.50 221.02 L614.17 221.12 L614.83 221.23 L615.50 221.33 L616.17 221.43 L616.83 221.52 L617.50 221.61 L618.16 221.70 L618.83 221.79 L619.50 221.87 L620.16 221.95 L620.83 222.03 L621.50 222.10 L622.16 222.18 L622.83 222.25 L623.50 222.32 L624.16 222.38 L624.83 222.45 L625.50 222.51 L626.16 222.57 L626.83 222.63 L627.50 222.69 L628.16 222.74 L628.83 222.80 L629.49 222.85 L630.16 222.90 L630.83 222.94 L631.49 222.99 L632.16 223.04 L632.83 223.08 L633.49 223.12 L634.16 223.16 L634.83 223.20 L635.49 223.24 L636.16 223.28 L636.83 223.31 L637.49 223.35 L638.16 223.38 L638.83 223.41 L639.49 223.44 L640.16 223.47 L640.82 223.50 L641.49 223.53 L642.16 223.55 L642.82 223.58 L643.49 223.60 L644.16 223.62 L644.82 223.65 L645.49 223.67 L646.16 223.69 L646.82 223.71 L647.49 223.72 L648.16 223.74 L648.82 223.76 L649.49 223.77 L650.16 223.79 L650.82 223.80 L651.49 223.82 L652.16 223.83 L652.82 223.84 L653.49 223.85 L654.15 223.86 L654.82 223.87 L655.49 223.88 L656.15 223.89 L656.82 223.90 L657.49 223.90 L658.15 223.91 L658.82 223.91 L659.49 223.92 L660.15 223.92 L660.82 223.93 L661.49 223.93 L662.15 223.93 L662.82 223.94 L663.49 223.94 L664.15 223.94 L664.82 223.94 L665.48 223.94 L666.15 223.94 L666.82 223.94 L667.48 223.93 L668.15 223.93 L668.82 223.93 L669.48 223.93 L670.15 223.92 L670.82 223.92 L671.48 223.92 L672.15 223.91 L672.82 223.91 L673.48 223.90 L674.15 223.90 L674.82 223.89 L675.48 223.88 L676.15 223.88 L676.81 223.87 L677.48 223.86 L678.15 223.85 L678.81 223.85 L679.48 223.84 L680.15 223.83 L680.81 223.82 L681.48 223.81 L682.15 223.80 L682.81 223.79 L683.48 223.78 L684.15 223.77 L684.81 223.76 L685.48 223.76 L686.15 223.75 L686.81 223.73 L687.48 223.72 L688.14 223.71 L688.81 223.70 L689.48 223.69 L690.14 223.68 L690.81 223.67 L691.48 223.66 L692.14 223.65 L692.81 223.64 L693.48 223.63 L694.14 223.62 L694.81 223.61 L695.48 223.60 L696.14 223.59 L696.81 223.58 L697.48 223.57 L698.14 223.56 L698.81 223.55 L699.47 223.54 L700.14 223.53 L700.81 223.52 L701.47 223.51 L702.14 223.50 L702.81 223.49 L703.47 223.48 L704.14 223.47 L704.81 223.47 L705.47 223.46 L706.14 223.45 L706.81 223.44 L707.47 223.43 L708.14 223.43 L708.81 223.42 L709.47 223.41 L710.14 223.41 L710.80 223.40 L711.47 223.39 L712.14 223.39 L712.80 223.38 L713.47 223.38 L714.14 223.37 L714.80 223.37 L715.47 223.36 L716.14 223.36 L716.80 223.36 L717.47 223.35 L718.14 223.35 L718.80 223.34 L719.47 223.34 L720.14 223.34 L720.80 223.33 L721.47 223.33 L722.14 223.33 L722.80 223.33 L723.47 223.32 L724.13 223.32 L724.80 223.32 L725.47 223.32 L726.13 223.32 L726.80 223.31 L727.47 223.31 L728.13 223.31 L728.80 223.31 L729.47 223.30 L730.13 223.30 L730.80 223.30 L731.47 223.30 L732.13 223.30 L732.80 223.29 L733.47 223.29 L734.13 223.29 L734.80 223.28 L735.46 223.28 L736.13 223.28 L736.80 223.27 L737.46 223.27 L738.13 223.26 L738.80 223.26 L739.46 223.25 L740.13 223.25 L740.80 223.24 L741.46 223.24 L742.13 223.23 L742.80 223.22 L743.46 223.22 L744.13 223.21 L744.80 223.20 L745.46 223.19 L746.13 223.18 L746.79 223.17 L747.46 223.16 L748.13 223.15 L748.79 223.14 L749.46 223.13 L750.13 223.11 L750.79 223.10 L751.46 223.08 L752.13 223.07 L752.79 223.05 L753.46 223.04 L754.13 223.02 L754.79 223.00 L755.46 222.99 L756.13 222.97 L756.79 222.95 L757.46 222.93 L758.12 222.91 L758.79 222.89 L759.46 222.86 L760.12 222.84 L760.79 222.82 L761.46 222.79 L762.12 222.77" fill="none" stroke="#f00" stroke-width="3.5" stroke-dasharray="10.2 14.55 3.3 14.6" stroke-dashoffset="-1.70"/>
<path d="M429.55 232.51 L430.22 232.49 L430.88 232.46 L431.55 232.44 L432.22 232.42 L432.88 232.40 L433.55 232.38 L434.22 232.36 L434.88 232.33 L435.55 232.31 L436.22 232.28 L436.88 232.26 L437.55 232.23 L438.22 232.21 L438.88 232.18 L439.55 232.16 L440.22 232.13 L440.88 232.10 L441.55 232.08 L442.21 232.05 L442.88 232.02 L443.55 231.99 L444.21 231.96 L444.88 231.93 L445.55 231.90 L446.21 231.87 L446.88 231.84 L447.55 231.81 L448.21 231.78 L448.88 231.75 L449.55 231.71 L450.21 231.68 L450.88 231.65 L451.55 231.61 L452.21 231.58 L452.88 231.54 L453.54 231.51 L454.21 231.47 L454.88 231.43 L455.54 231.40 L456.21 231.36 L456.88 231.32 L457.54 231.28 L458.21 231.24 L458.88 231.20 L459.54 231.16 L460.21 231.12 L460.88 231.08 L461.54 231.04 L462.21 231.00 L462.88 230.96 L463.54 230.91 L464.21 230.87 L464.87 230.82 L465.54 230.78 L466.21 230.73 L466.87 230.69 L467.54 230.64 L468.21 230.60 L468.87 230.55 L469.54 230.50 L470.21 230.45 L470.87 230.40 L471.54 230.35 L472.21 230.30 L472.87 230.25 L473.54 230.20 L474.21 230.14 L474.87 230.09 L475.54 230.04 L476.21 229.98 L476.87 229.93 L477.54 229.87 L478.20 229.81 L478.87 229.76 L479.54 229.70 L480.20 229.64 L480.87 229.58 L481.54 229.52 L482.20 229.46 L482.87 229.39 L483.54 229.33 L484.20 229.27 L484.87 229.20 L485.54 229.14 L486.20 229.07 L486.87 229.00 L487.54 228.93 L488.20 228.86 L488.87 228.79 L489.53 228.72 L490.20 228.65 L490.87 228.57 L491.53 228.50 L492.20 228.42 L492.87 228.34 L493.53 228.27 L494.20 228.19 L494.87 228.10 L495.53 228.02 L496.20 227.94 L496.87 227.85 L497.53 227.77 L498.20 227.68 L498.87 227.59 L499.53 227.50 L500.20 227.40 L500.86 227.31 L501.53 227.21 L502.20 227.11 L502.86 227.01 L503.53 226.91 L504.20 226.81 L504.86 226.70 L505.53 226.59 L506.20 226.48 L506.86 226.37 L507.53 226.26 L508.20 226.14 L508.86 226.02 L509.53 225.90 L510.20 225.77 L510.86 225.64 L511.53 225.51 L512.19 225.38 L512.86 225.24 L513.53 225.10 L514.19 224.96 L514.86 224.81 L515.53 224.66 L516.19 224.50 L516.86 224.34 L517.53 224.18 L518.19 224.01 L518.86 223.84 L519.53 223.67 L520.19 223.48 L520.86 223.30 L521.53 223.11 L522.19 222.91 L522.86 222.70 L523.52 222.50 L524.19 222.28 L524.86 222.06 L525.52 221.83 L526.19 221.59 L526.86 221.35 L527.52 221.10 L528.19 220.84 L528.86 220.57 L529.52 220.29 L530.19 220.01 L530.86 219.71 L531.52 219.40 L532.19 219.09 L532.86 218.76 L533.52 218.42 L534.19 218.07 L534.86 217.70 L535.52 217.33 L536.19 216.94 L536.85 216.53 L537.52 216.11 L538.19 215.68 L538.85 215.23 L539.52 214.76 L540.19 214.28 L540.85 213.78 L541.52 213.27 L542.19 212.73 L542.85 212.18 L543.52 211.61 L544.19 211.02 L544.85 210.41 L545.52 209.79 L546.19 209.14 L546.85 208.48 L547.52 207.80 L548.18 207.10 L548.85 206.39 L549.52 205.66 L550.18 204.92 L550.85 204.17 L551.52 203.40 L552.18 202.64 L552.85 201.86 L553.52 201.09 L554.18 200.32 L554.85 199.56 L555.52 198.81 L556.18 198.07 L556.85 197.36 L557.52 196.67 L558.18 196.01 L558.85 195.39 L559.51 194.81 L560.18 194.28 L560.85 193.80 L561.51 193.38 L562.18 193.02 L562.85 192.71 L563.51 192.48 L564.18 192.31 L564.85 192.21 L565.51 192.18 L566.18 192.21 L566.85 192.32 L567.51 192.48 L568.18 192.70 L568.85 192.99 L569.51 193.32 L570.18 193.70 L570.84 194.13 L571.51 194.59 L572.18 195.08 L572.84 195.61 L573.51 196.15 L574.18 196.72 L574.84 197.30 L575.51 197.89 L576.18 198.49 L576.84 199.09 L577.51 199.68 L578.18 200.28 L578.84 200.87 L579.51 201.45 L580.18 202.03 L580.84 202.59 L581.51 203.14 L582.17 203.68 L582.84 204.20 L583.51 204.71 L584.17 205.20 L584.84 205.68 L585.51 206.14 L586.17 206.58 L586.84 207.01 L587.51 207.43 L588.17 207.83 L588.84 208.21 L589.51 208.58 L590.17 208.93 L590.84 209.27 L591.51 209.60 L592.17 209.91 L592.84 210.21 L593.51 210.50 L594.17 210.77 L594.84 211.04 L595.50 211.29 L596.17 211.53 L596.84 211.76 L597.50 211.98 L598.17 212.19 L598.84 212.39 L599.50 212.58 L600.17 212.77 L600.84 212.94 L601.50 213.11 L602.17 213.27 L602.84 213.42 L603.50 213.57 L604.17 213.70 L604.84 213.84 L605.50 213.96 L606.17 214.08 L606.83 214.19 L607.50 214.30 L608.17 214.40 L608.83 214.50 L609.50 214.59 L610.17 214.68 L610.83 214.76 L611.50 214.84 L612.17 214.92 L612.83 214.99 L613.50 215.06 L614.17 215.12 L614.83 215.18 L615.50 215.24 L616.17 215.29 L616.83 215.34 L617.50 215.39 L618.16 215.43 L618.83 215.47 L619.50 215.51 L620.16 215.54 L620.83 215.58 L621.50 215.61 L622.16 215.64 L622.83 215.66 L623.50 215.69 L624.16 215.71 L624.83 215.73 L625.50 215.75 L626.16 215.76 L626.83 215.78 L627.50 215.79 L628.16 215.80 L628.83 215.81 L629.49 215.82 L630.16 215.83 L630.83 215.83 L631.49 215.83 L632.16 215.84 L632.83 215.84 L633.49 215.84 L634.16 215.84 L634.83 215.83 L635.49 215.83 L636.16 215.82 L636.83 215.82 L637.49 215.81 L638.16 215.80 L638.83 215.79 L639.49 215.78 L640.16 215.77 L640.82 215.76 L641.49 215.75 L642.16 215.74 L642.82 215.72 L643.49 215.71 L644.16 215.69 L644.82 215.68 L645.49 215.66 L646.16 215.64 L646.82 215.62 L647.49 215.61 L648.16 215.59 L648.82 215.57 L649.49 215.55 L650.16 215.53 L650.82 215.50 L651.49 215.48 L652.16 215.46 L652.82 215.44 L653.49 215.41 L654.15 215.39 L654.82 215.37 L655.49 215.34 L656.15 215.32 L656.82 215.29 L657.49 215.27 L658.15 215.24 L658.82 215.21 L659.49 215.19 L660.15 215.16 L660.82 215.13 L661.49 215.11 L662.15 215.08 L662.82 215.05 L663.49 215.02 L664.15 214.99 L664.82 214.96 L665.48 214.94 L666.15 214.91 L666.82 214.88 L667.48 214.85 L668.15 214.82 L668.82 214.79 L669.48 214.76 L670.15 214.73 L670.82 214.70 L671.48 214.67 L672.15 214.64 L672.82 214.61 L673.48 214.58 L674.15 214.54 L674.82 214.51 L675.48 214.48 L676.15 214.45 L676.81 214.42 L677.48 214.39 L678.15 214.36 L678.81 214.33 L679.48 214.29 L680.15 214.26 L680.81 214.23 L681.48 214.20 L682.15 214.17 L682.81 214.13 L683.48 214.10 L684.15 214.07 L684.81 214.04 L685.48 214.01 L686.15 213.98 L686.81 213.94 L687.48 213.91 L688.14 213.88 L688.81 213.85 L689.48 213.82 L690.14 213.78 L690.81 213.75 L691.48 213.72 L692.14 213.69 L692.81 213.66 L693.48 213.62 L694.14 213.59 L694.81 213.56 L695.48 213.53 L696.14 213.50 L696.81 213.47 L697.48 213.43 L698.14 213.40 L698.81 213.37 L699.47 213.34 L700.14 213.31 L700.81 213.28 L701.47 213.25 L702.14 213.22 L702.81 213.18 L703.47 213.15 L704.14 213.12 L704.81 213.09 L705.47 213.06 L706.14 213.03 L706.81 213.00 L707.47 212.97 L708.14 212.94 L708.81 212.91 L709.47 212.88 L710.14 212.85 L710.80 212.82 L711.47 212.79 L712.14 212.76 L712.80 212.73 L713.47 212.70 L714.14 212.67 L714.80 212.64 L715.47 212.61 L716.14 212.58 L716.80 212.56 L717.47 212.53 L718.14 212.50 L718.80 212.47 L719.47 212.44 L720.14 212.41 L720.80 212.39 L721.47 212.36 L722.14 212.33 L722.80 212.30 L723.47 212.27 L724.13 212.25 L724.80 212.22 L725.47 212.19 L726.13 212.17 L726.80 212.14 L727.47 212.11 L728.13 212.08 L728.80 212.06 L729.47 212.03 L730.13 212.01 L730.80 211.98 L731.47 211.95 L732.13 211.93 L732.80 211.90 L733.47 211.88 L734.13 211.85 L734.80 211.83 L735.46 211.80 L736.13 211.78 L736.80 211.75 L737.46 211.73 L738.13 211.70 L738.80 211.68 L739.46 211.65 L740.13 211.63 L740.80 211.61 L741.46 211.58 L742.13 211.56 L742.80 211.53 L743.46 211.51 L744.13 211.49 L744.80 211.46 L745.46 211.44 L746.13 211.42 L746.79 211.39 L747.46 211.37 L748.13 211.35 L748.79 211.33 L749.46 211.30 L750.13 211.28 L750.79 211.26 L751.46 211.24 L752.13 211.21 L752.79 211.19 L753.46 211.17 L754.13 211.15 L754.79 211.13 L755.46 211.10 L756.13 211.08 L756.79 211.06 L757.46 211.04 L758.12 211.02 L758.79 210.99 L759.46 210.97 L760.12 210.95 L760.79 210.93 L761.46 210.91 L762.12 210.89" fill="none" stroke="#2244ff" stroke-width="3.5" stroke-dasharray="3.5 7.2" stroke-dashoffset="-0.60"/>
<path d="M429.55 232.68 L430.22 232.62 L430.88 232.55 L431.55 232.48 L432.22 232.42 L432.88 232.35 L433.55 232.28 L434.22 232.21 L434.88 232.15 L435.55 232.08 L436.22 232.01 L436.88 231.94 L437.55 231.87 L438.22 231.80 L438.88 231.73 L439.55 231.66 L440.22 231.59 L440.88 231.52 L441.55 231.44 L442.21 231.37 L442.88 231.30 L443.55 231.23 L444.21 231.15 L444.88 231.08 L445.55 231.00 L446.21 230.93 L446.88 230.85 L447.55 230.77 L448.21 230.70 L448.88 230.62 L449.55 230.54 L450.21 230.46 L450.88 230.38 L451.55 230.30 L452.21 230.22 L452.88 230.14 L453.54 230.06 L454.21 229.98 L454.88 229.89 L455.54 229.81 L456.21 229.72 L456.88 229.64 L457.54 229.55 L458.21 229.47 L458.88 229.38 L459.54 229.29 L460.21 229.20 L460.88 229.11 L461.54 229.02 L462.21 228.92 L462.88 228.83 L463.54 228.74 L464.21 228.64 L464.87 228.54 L465.54 228.45 L466.21 228.35 L466.87 228.25 L467.54 228.15 L468.21 228.05 L468.87 227.94 L469.54 227.84 L470.21 227.73 L470.87 227.62 L471.54 227.52 L472.21 227.41 L472.87 227.29 L473.54 227.18 L474.21 227.07 L474.87 226.95 L475.54 226.83 L476.21 226.71 L476.87 226.59 L477.54 226.47 L478.20 226.34 L478.87 226.21 L479.54 226.08 L480.20 225.95 L480.87 225.82 L481.54 225.68 L482.20 225.55 L482.87 225.41 L483.54 225.26 L484.20 225.12 L484.87 224.97 L485.54 224.82 L486.20 224.67 L486.87 224.51 L487.54 224.35 L488.20 224.19 L488.87 224.02 L489.53 223.86 L490.20 223.68 L490.87 223.51 L491.53 223.33 L492.20 223.14 L492.87 222.96 L493.53 222.77 L494.20 222.57 L494.87 222.37 L495.53 222.17 L496.20 221.96 L496.87 221.74 L497.53 221.53 L498.20 221.30 L498.87 221.07 L499.53 220.84 L500.20 220.59 L500.86 220.35 L501.53 220.09 L502.20 219.83 L502.86 219.56 L503.53 219.29 L504.20 219.01 L504.86 218.72 L505.53 218.42 L506.20 218.11 L506.86 217.80 L507.53 217.47 L508.20 217.14 L508.86 216.79 L509.53 216.44 L510.20 216.07 L510.86 215.70 L511.53 215.31 L512.19 214.91 L512.86 214.49 L513.53 214.07 L514.19 213.62 L514.86 213.17 L515.53 212.70 L516.19 212.21 L516.86 211.70 L517.53 211.18 L518.19 210.64 L518.86 210.08 L519.53 209.50 L520.19 208.90 L520.86 208.27 L521.53 207.63 L522.19 206.96 L522.86 206.26 L523.52 205.53 L524.19 204.78 L524.86 204.00 L525.52 203.19 L526.19 202.34 L526.86 201.46 L527.52 200.55 L528.19 199.60 L528.86 198.61 L529.52 197.57 L530.19 196.50 L530.86 195.38 L531.52 194.21 L532.19 192.99 L532.86 191.72 L533.52 190.40 L534.19 189.01 L534.86 187.57 L535.52 186.07 L536.19 184.50 L536.85 182.87 L537.52 181.16 L538.19 179.38 L538.85 177.52 L539.52 175.59 L540.19 173.57 L540.85 171.47 L541.52 169.28 L542.19 167.01 L542.85 164.64 L543.52 162.18 L544.19 159.62 L544.85 156.98 L545.52 154.23 L546.19 151.40 L546.85 148.47 L547.52 145.45 L548.18 142.35 L548.85 139.16 L549.52 135.90 L550.18 132.58 L550.85 129.19 L551.52 125.76 L552.18 122.30 L552.85 118.83 L553.52 115.35 L554.18 111.89 L554.85 108.48 L555.52 105.13 L556.18 101.86 L556.85 98.72 L557.52 95.71 L558.18 92.87 L558.85 90.22 L559.51 87.80 L560.18 85.61 L560.85 83.69 L561.51 82.06 L562.18 80.72 L562.85 79.70 L563.51 78.99 L564.18 78.61 L564.85 78.56 L565.51 78.82 L566.18 79.40 L566.85 80.27 L567.51 81.42 L568.18 82.83 L568.85 84.49 L569.51 86.37 L570.18 88.44 L570.84 90.69 L571.51 93.09 L572.18 95.61 L572.84 98.23 L573.51 100.93 L574.18 103.70 L574.84 106.50 L575.51 109.33 L576.18 112.17 L576.84 115.01 L577.51 117.82 L578.18 120.61 L578.84 123.37 L579.51 126.08 L580.18 128.74 L580.84 131.34 L581.51 133.89 L582.17 136.37 L582.84 138.78 L583.51 141.13 L584.17 143.41 L584.84 145.62 L585.51 147.76 L586.17 149.84 L586.84 151.84 L587.51 153.78 L588.17 155.65 L588.84 157.46 L589.51 159.21 L590.17 160.89 L590.84 162.52 L591.51 164.09 L592.17 165.60 L592.84 167.06 L593.51 168.47 L594.17 169.82 L594.84 171.13 L595.50 172.39 L596.17 173.60 L596.84 174.78 L597.50 175.91 L598.17 177.00 L598.84 178.05 L599.50 179.06 L600.17 180.04 L600.84 180.99 L601.50 181.90 L602.17 182.78 L602.84 183.63 L603.50 184.45 L604.17 185.24 L604.84 186.01 L605.50 186.75 L606.17 187.47 L606.83 188.16 L607.50 188.83 L608.17 189.47 L608.83 190.10 L609.50 190.71 L610.17 191.29 L610.83 191.86 L611.50 192.41 L612.17 192.94 L612.83 193.46 L613.50 193.96 L614.17 194.44 L614.83 194.91 L615.50 195.36 L616.17 195.80 L616.83 196.23 L617.50 196.65 L618.16 197.05 L618.83 197.44 L619.50 197.82 L620.16 198.18 L620.83 198.54 L621.50 198.89 L622.16 199.22 L622.83 199.55 L623.50 199.87 L624.16 200.17 L624.83 200.47 L625.50 200.76 L626.16 201.05 L626.83 201.32 L627.50 201.59 L628.16 201.85 L628.83 202.10 L629.49 202.34 L630.16 202.58 L630.83 202.81 L631.49 203.04 L632.16 203.26 L632.83 203.47 L633.49 203.68 L634.16 203.88 L634.83 204.07 L635.49 204.26 L636.16 204.45 L636.83 204.63 L637.49 204.81 L638.16 204.98 L638.83 205.14 L639.49 205.30 L640.16 205.46 L640.82 205.61 L641.49 205.76 L642.16 205.91 L642.82 206.05 L643.49 206.18 L644.16 206.32 L644.82 206.45 L645.49 206.57 L646.16 206.69 L646.82 206.81 L647.49 206.93 L648.16 207.04 L648.82 207.15 L649.49 207.25 L650.16 207.36 L650.82 207.46 L651.49 207.55 L652.16 207.65 L652.82 207.74 L653.49 207.83 L654.15 207.91 L654.82 208.00 L655.49 208.08 L656.15 208.16 L656.82 208.23 L657.49 208.31 L658.15 208.38 L658.82 208.45 L659.49 208.52 L660.15 208.58 L660.82 208.65 L661.49 208.71 L662.15 208.77 L662.82 208.82 L663.49 208.88 L664.15 208.93 L664.82 208.98 L665.48 209.03 L666.15 209.08 L666.82 209.12 L667.48 209.17 L668.15 209.21 L668.82 209.25 L669.48 209.29 L670.15 209.33 L670.82 209.37 L671.48 209.40 L672.15 209.43 L672.82 209.47 L673.48 209.50 L674.15 209.52 L674.82 209.55 L675.48 209.58 L676.15 209.60 L676.81 209.63 L677.48 209.65 L678.15 209.67 L678.81 209.69 L679.48 209.71 L680.15 209.73 L680.81 209.74 L681.48 209.76 L682.15 209.77 L682.81 209.79 L683.48 209.80 L684.15 209.81 L684.81 209.82 L685.48 209.83 L686.15 209.83 L686.81 209.84 L687.48 209.85 L688.14 209.85 L688.81 209.86 L689.48 209.86 L690.14 209.86 L690.81 209.86 L691.48 209.87 L692.14 209.87 L692.81 209.86 L693.48 209.86 L694.14 209.86 L694.81 209.86 L695.48 209.85 L696.14 209.85 L696.81 209.84 L697.48 209.84 L698.14 209.83 L698.81 209.82 L699.47 209.81 L700.14 209.81 L700.81 209.80 L701.47 209.79 L702.14 209.77 L702.81 209.76 L703.47 209.75 L704.14 209.74 L704.81 209.73 L705.47 209.71 L706.14 209.70 L706.81 209.68 L707.47 209.67 L708.14 209.65 L708.81 209.64 L709.47 209.62 L710.14 209.60 L710.80 209.58 L711.47 209.56 L712.14 209.55 L712.80 209.53 L713.47 209.51 L714.14 209.49 L714.80 209.47 L715.47 209.45 L716.14 209.42 L716.80 209.40 L717.47 209.38 L718.14 209.36 L718.80 209.33 L719.47 209.31 L720.14 209.29 L720.80 209.26 L721.47 209.24 L722.14 209.21 L722.80 209.19 L723.47 209.16 L724.13 209.14 L724.80 209.11 L725.47 209.09 L726.13 209.06 L726.80 209.03 L727.47 209.00 L728.13 208.98 L728.80 208.95 L729.47 208.92 L730.13 208.89 L730.80 208.86 L731.47 208.84 L732.13 208.81 L732.80 208.78 L733.47 208.75 L734.13 208.72 L734.80 208.69 L735.46 208.66 L736.13 208.63 L736.80 208.60 L737.46 208.56 L738.13 208.53 L738.80 208.50 L739.46 208.47 L740.13 208.44 L740.80 208.41 L741.46 208.37 L742.13 208.34 L742.80 208.31 L743.46 208.28 L744.13 208.24 L744.80 208.21 L745.46 208.18 L746.13 208.14 L746.79 208.11 L747.46 208.08 L748.13 208.04 L748.79 208.01 L749.46 207.97 L750.13 207.94 L750.79 207.91 L751.46 207.87 L752.13 207.84 L752.79 207.80 L753.46 207.77 L754.13 207.73 L754.79 207.70 L755.46 207.66 L756.13 207.63 L756.79 207.59 L757.46 207.56 L758.12 207.52 L758.79 207.48 L759.46 207.45 L760.12 207.41 L760.79 207.38 L761.46 207.34 L762.12 207.30" fill="none" stroke="#f00" stroke-width="3.5" stroke-linejoin="round"/>
</g>
<rect x="430.45" y="0.9" width="331.15" height="238.25" fill="none" stroke="#000" stroke-width="2.7"/>
<text x="79.90" y="39.00" font-size="28.80" text-anchor="end" style="font-family:'Liberation Sans',sans-serif" fill="#000" >60</text>
<text x="79.90" y="104.00" font-size="28.80" text-anchor="end" style="font-family:'Liberation Sans',sans-serif" fill="#000" >40</text>
<text x="79.90" y="170.40" font-size="28.80" text-anchor="end" style="font-family:'Liberation Sans',sans-serif" fill="#000" >20</text>
<text x="79.90" y="236.20" font-size="28.80" text-anchor="end" style="font-family:'Liberation Sans',sans-serif" fill="#000" >0</text>
<text x="118.90" y="271.00" font-size="28.80" text-anchor="middle" style="font-family:'Liberation Sans',sans-serif" fill="#000" >0.4</text>
<text x="230.10" y="271.00" font-size="28.80" text-anchor="middle" style="font-family:'Liberation Sans',sans-serif" fill="#000" >0.8</text>
<text x="338.20" y="271.00" font-size="28.80" text-anchor="middle" style="font-family:'Liberation Sans',sans-serif" fill="#000" >1.2</text>
<text x="461.90" y="271.00" font-size="28.80" text-anchor="middle" style="font-family:'Liberation Sans',sans-serif" fill="#000" >0.4</text>
<text x="571.80" y="271.00" font-size="28.80" text-anchor="middle" style="font-family:'Liberation Sans',sans-serif" fill="#000" >0.8</text>
<text x="680.90" y="271.00" font-size="28.80" text-anchor="middle" style="font-family:'Liberation Sans',sans-serif" fill="#000" >1.2</text>
<text x="354.40" y="48.30" font-size="28.60" text-anchor="start" style="font-family:'Liberation Sans',sans-serif" fill="#000" >(a)</text>
<g transform="translate(689.2,48.1) scale(1.15,1)"><text x="0.00" y="0.00" font-size="25.50" text-anchor="start" style="font-family:'Liberation Sans',sans-serif" fill="#000" >(b)</text></g>
<g transform="translate(32.1,232.0) rotate(-90) scale(1,1.075)"><text x="0.00" y="0.00" font-size="28.50" text-anchor="start" style="font-family:'Liberation Sans',sans-serif" fill="#000" >Events/20 MeV/c</text><text x="215.60" y="-6.60" font-size="24.50" text-anchor="start" style="font-family:'Liberation Sans',sans-serif" fill="#000" >2</text></g>
<text x="163.20" y="306.00" font-size="26.00" text-anchor="start" style="font-family:'Liberation Sans',sans-serif" fill="#000" >m</text>
<text x="185.30" y="313.20" font-size="24.00" text-anchor="start" style="font-family:'Liberation Serif',serif;font-style:italic" fill="#000" stroke="#000" stroke-width="0.3">π</text>
<g transform="translate(196.3,307.6) scale(1.1,0.86)"><text x="0.00" y="0.00" font-size="22.00" text-anchor="start" style="font-family:'Liberation Sans',sans-serif" fill="#000" >+</text></g>
<text x="210.70" y="313.20" font-size="24.00" text-anchor="start" style="font-family:'Liberation Serif',serif;font-style:italic" fill="#000" stroke="#000" stroke-width="0.3">π</text>
<text x="223.20" y="307.00" font-size="15.50" text-anchor="start" style="font-family:'Liberation Sans',sans-serif" fill="#000" >0</text>
<text x="246.50" y="306.40" font-size="26.50" text-anchor="start" style="font-family:'Liberation Sans',sans-serif" fill="#000" >(GeV/c</text>
<text x="328.50" y="299.80" font-size="20.50" text-anchor="start" style="font-family:'Liberation Sans',sans-serif" fill="#000" >2</text>
<text x="340.00" y="306.40" font-size="26.50" text-anchor="start" style="font-family:'Liberation Sans',sans-serif" fill="#000" >)</text>
<text x="508.50" y="306.00" font-size="26.00" text-anchor="start" style="font-family:'Liberation Sans',sans-serif" fill="#000" >m</text>
<text x="531.00" y="313.20" font-size="24.00" text-anchor="start" style="font-family:'Liberation Serif',serif;font-style:italic" fill="#000" stroke="#000" stroke-width="0.3">π</text>
<text x="543.50" y="305.90" font-size="19.00" text-anchor="start" style="font-family:'Liberation Sans',sans-serif" fill="#000" stroke="#000" stroke-width="0.5">-</text>
<text x="550.70" y="313.20" font-size="24.00" text-anchor="start" style="font-family:'Liberation Serif',serif;font-style:italic" fill="#000" stroke="#000" stroke-width="0.3">π</text>
<text x="563.20" y="307.00" font-size="15.50" text-anchor="start" style="font-family:'Liberation Sans',sans-serif" fill="#000" >0</text>
<text x="586.50" y="306.40" font-size="26.50" text-anchor="start" style="font-family:'Liberation Sans',sans-serif" fill="#000" >(GeV/c</text>
<text x="668.50" y="299.80" font-size="20.50" text-anchor="start" style="font-family:'Liberation Sans',sans-serif" fill="#000" >2</text>
<text x="680.00" y="306.40" font-size="26.50" text-anchor="start" style="font-family:'Liberation Sans',sans-serif" fill="#000" >)</text>
</svg></body></html>
